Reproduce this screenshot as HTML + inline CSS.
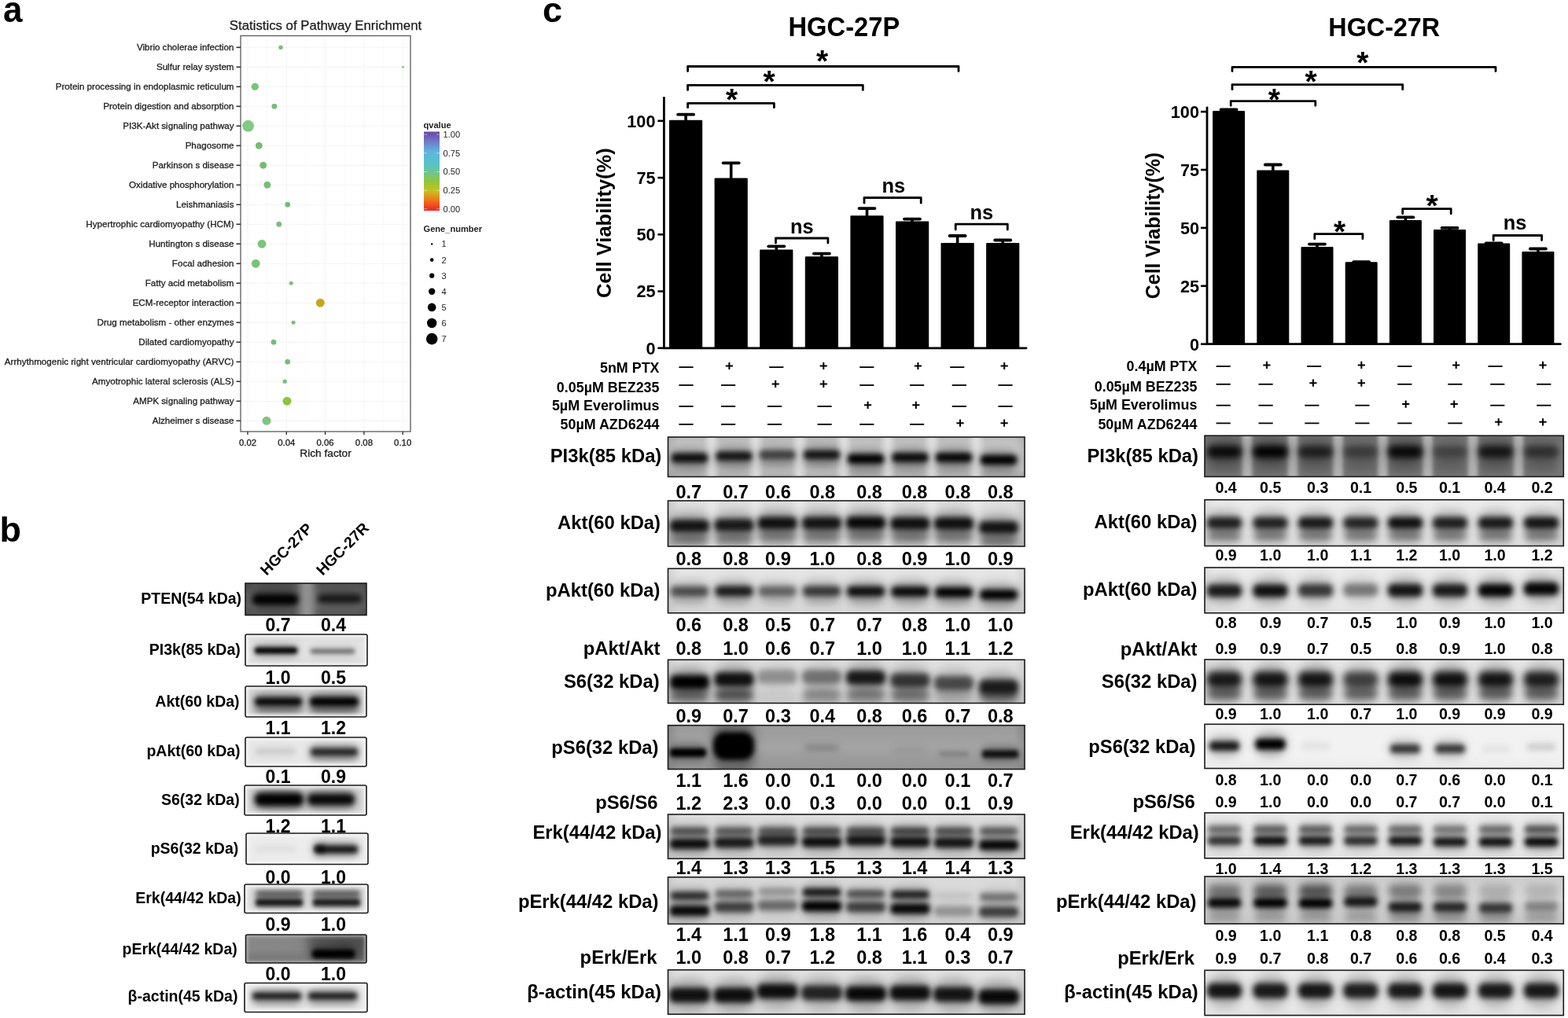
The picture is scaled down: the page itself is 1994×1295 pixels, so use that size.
<!DOCTYPE html>
<html><head><meta charset="utf-8"><style>
html,body{margin:0;padding:0;background:#fff;}
svg{display:block;}
text{font-family:"Liberation Sans", Arial, sans-serif;}
</style></head><body>
<svg width="1994" height="1295" viewBox="0 0 1994 1295">
<rect width="1994" height="1295" fill="#fff"/>
<text x="0" y="0" font-size="44" text-anchor="start" font-weight="bold" fill="#000" transform="translate(3.9,28.0) scale(1,1.04)">a</text><text x="414.0" y="37.6" font-size="16.8" text-anchor="middle" font-weight="normal" fill="#1a1a1a" stroke="#1a1a1a" stroke-width="0.25">Statistics of Pathway Enrichment</text><line x1="315.0" y1="45.5" x2="315.0" y2="549" stroke="#f3f3f3" stroke-width="1"/><line x1="339.6" y1="45.5" x2="339.6" y2="549" stroke="#f9f9f9" stroke-width="1"/><line x1="364.3" y1="45.5" x2="364.3" y2="549" stroke="#f3f3f3" stroke-width="1"/><line x1="388.9" y1="45.5" x2="388.9" y2="549" stroke="#f9f9f9" stroke-width="1"/><line x1="413.6" y1="45.5" x2="413.6" y2="549" stroke="#f3f3f3" stroke-width="1"/><line x1="438.2" y1="45.5" x2="438.2" y2="549" stroke="#f9f9f9" stroke-width="1"/><line x1="462.9" y1="45.5" x2="462.9" y2="549" stroke="#f3f3f3" stroke-width="1"/><line x1="487.5" y1="45.5" x2="487.5" y2="549" stroke="#f9f9f9" stroke-width="1"/><line x1="512.2" y1="45.5" x2="512.2" y2="549" stroke="#f3f3f3" stroke-width="1"/><line x1="306" y1="60.3" x2="522" y2="60.3" stroke="#f3f3f3" stroke-width="1"/><line x1="306" y1="85.3" x2="522" y2="85.3" stroke="#f3f3f3" stroke-width="1"/><line x1="306" y1="110.3" x2="522" y2="110.3" stroke="#f3f3f3" stroke-width="1"/><line x1="306" y1="135.3" x2="522" y2="135.3" stroke="#f3f3f3" stroke-width="1"/><line x1="306" y1="160.3" x2="522" y2="160.3" stroke="#f3f3f3" stroke-width="1"/><line x1="306" y1="185.3" x2="522" y2="185.3" stroke="#f3f3f3" stroke-width="1"/><line x1="306" y1="210.3" x2="522" y2="210.3" stroke="#f3f3f3" stroke-width="1"/><line x1="306" y1="235.3" x2="522" y2="235.3" stroke="#f3f3f3" stroke-width="1"/><line x1="306" y1="260.3" x2="522" y2="260.3" stroke="#f3f3f3" stroke-width="1"/><line x1="306" y1="285.3" x2="522" y2="285.3" stroke="#f3f3f3" stroke-width="1"/><line x1="306" y1="310.3" x2="522" y2="310.3" stroke="#f3f3f3" stroke-width="1"/><line x1="306" y1="335.3" x2="522" y2="335.3" stroke="#f3f3f3" stroke-width="1"/><line x1="306" y1="360.3" x2="522" y2="360.3" stroke="#f3f3f3" stroke-width="1"/><line x1="306" y1="385.3" x2="522" y2="385.3" stroke="#f3f3f3" stroke-width="1"/><line x1="306" y1="410.3" x2="522" y2="410.3" stroke="#f3f3f3" stroke-width="1"/><line x1="306" y1="435.3" x2="522" y2="435.3" stroke="#f3f3f3" stroke-width="1"/><line x1="306" y1="460.3" x2="522" y2="460.3" stroke="#f3f3f3" stroke-width="1"/><line x1="306" y1="485.3" x2="522" y2="485.3" stroke="#f3f3f3" stroke-width="1"/><line x1="306" y1="510.3" x2="522" y2="510.3" stroke="#f3f3f3" stroke-width="1"/><line x1="306" y1="535.3" x2="522" y2="535.3" stroke="#f3f3f3" stroke-width="1"/><circle cx="357" cy="60.3" r="2.6" fill="#74c474" stroke="#000" stroke-opacity="0.12" stroke-width="0.7"/><circle cx="512.4" cy="85.3" r="1.3" fill="#8ccc8c" stroke="#000" stroke-opacity="0.12" stroke-width="0.7"/><circle cx="324.3" cy="110.3" r="4.5" fill="#78c678" stroke="#000" stroke-opacity="0.12" stroke-width="0.7"/><circle cx="348.9" cy="135.3" r="3.3" fill="#72c272" stroke="#000" stroke-opacity="0.12" stroke-width="0.7"/><circle cx="315.6" cy="160.3" r="7.2" fill="#80cb7f" stroke="#000" stroke-opacity="0.12" stroke-width="0.7"/><circle cx="329.3" cy="185.3" r="4.3" fill="#6fc06f" stroke="#000" stroke-opacity="0.12" stroke-width="0.7"/><circle cx="334.7" cy="210.3" r="4.3" fill="#6fc06f" stroke="#000" stroke-opacity="0.12" stroke-width="0.7"/><circle cx="339.9" cy="235.3" r="4.3" fill="#72c272" stroke="#000" stroke-opacity="0.12" stroke-width="0.7"/><circle cx="365.7" cy="260.3" r="3.2" fill="#70c070" stroke="#000" stroke-opacity="0.12" stroke-width="0.7"/><circle cx="354.8" cy="285.3" r="3.2" fill="#74c374" stroke="#000" stroke-opacity="0.12" stroke-width="0.7"/><circle cx="333" cy="310.3" r="5.2" fill="#78c678" stroke="#000" stroke-opacity="0.12" stroke-width="0.7"/><circle cx="325.2" cy="335.3" r="5.2" fill="#76c576" stroke="#000" stroke-opacity="0.12" stroke-width="0.7"/><circle cx="370.3" cy="360.3" r="2.4" fill="#74c474" stroke="#000" stroke-opacity="0.12" stroke-width="0.7"/><circle cx="407.3" cy="385.3" r="5.3" fill="#c9a514" stroke="#000" stroke-opacity="0.12" stroke-width="0.7"/><circle cx="373.1" cy="410.3" r="2.4" fill="#74c474" stroke="#000" stroke-opacity="0.12" stroke-width="0.7"/><circle cx="348" cy="435.3" r="3.2" fill="#72c272" stroke="#000" stroke-opacity="0.12" stroke-width="0.7"/><circle cx="365.7" cy="460.3" r="3.2" fill="#72c272" stroke="#000" stroke-opacity="0.12" stroke-width="0.7"/><circle cx="362.2" cy="485.3" r="2.5" fill="#74c474" stroke="#000" stroke-opacity="0.12" stroke-width="0.7"/><circle cx="365" cy="510.3" r="5.3" fill="#8cc63c" stroke="#000" stroke-opacity="0.12" stroke-width="0.7"/><circle cx="339" cy="535.3" r="5.3" fill="#7cc77c" stroke="#000" stroke-opacity="0.12" stroke-width="0.7"/><rect x="306" y="45.5" width="216" height="503.5" fill="none" stroke="#5a5a5a" stroke-width="1.3"/><line x1="300.5" y1="60.3" x2="306" y2="60.3" stroke="#333" stroke-width="1.6"/><line x1="300.5" y1="85.3" x2="306" y2="85.3" stroke="#333" stroke-width="1.6"/><line x1="300.5" y1="110.3" x2="306" y2="110.3" stroke="#333" stroke-width="1.6"/><line x1="300.5" y1="135.3" x2="306" y2="135.3" stroke="#333" stroke-width="1.6"/><line x1="300.5" y1="160.3" x2="306" y2="160.3" stroke="#333" stroke-width="1.6"/><line x1="300.5" y1="185.3" x2="306" y2="185.3" stroke="#333" stroke-width="1.6"/><line x1="300.5" y1="210.3" x2="306" y2="210.3" stroke="#333" stroke-width="1.6"/><line x1="300.5" y1="235.3" x2="306" y2="235.3" stroke="#333" stroke-width="1.6"/><line x1="300.5" y1="260.3" x2="306" y2="260.3" stroke="#333" stroke-width="1.6"/><line x1="300.5" y1="285.3" x2="306" y2="285.3" stroke="#333" stroke-width="1.6"/><line x1="300.5" y1="310.3" x2="306" y2="310.3" stroke="#333" stroke-width="1.6"/><line x1="300.5" y1="335.3" x2="306" y2="335.3" stroke="#333" stroke-width="1.6"/><line x1="300.5" y1="360.3" x2="306" y2="360.3" stroke="#333" stroke-width="1.6"/><line x1="300.5" y1="385.3" x2="306" y2="385.3" stroke="#333" stroke-width="1.6"/><line x1="300.5" y1="410.3" x2="306" y2="410.3" stroke="#333" stroke-width="1.6"/><line x1="300.5" y1="435.3" x2="306" y2="435.3" stroke="#333" stroke-width="1.6"/><line x1="300.5" y1="460.3" x2="306" y2="460.3" stroke="#333" stroke-width="1.6"/><line x1="300.5" y1="485.3" x2="306" y2="485.3" stroke="#333" stroke-width="1.6"/><line x1="300.5" y1="510.3" x2="306" y2="510.3" stroke="#333" stroke-width="1.6"/><line x1="300.5" y1="535.3" x2="306" y2="535.3" stroke="#333" stroke-width="1.6"/><text x="297.5" y="64.4" font-size="11.6" text-anchor="end" font-weight="normal" fill="#1c1c1c" stroke="#1c1c1c" stroke-width="0.3">Vibrio cholerae infection</text><text x="297.5" y="89.4" font-size="11.6" text-anchor="end" font-weight="normal" fill="#1c1c1c" stroke="#1c1c1c" stroke-width="0.3">Sulfur relay system</text><text x="297.5" y="114.4" font-size="11.6" text-anchor="end" font-weight="normal" fill="#1c1c1c" stroke="#1c1c1c" stroke-width="0.3">Protein processing in endoplasmic reticulum</text><text x="297.5" y="139.4" font-size="11.6" text-anchor="end" font-weight="normal" fill="#1c1c1c" stroke="#1c1c1c" stroke-width="0.3">Protein digestion and absorption</text><text x="297.5" y="164.4" font-size="11.6" text-anchor="end" font-weight="normal" fill="#1c1c1c" stroke="#1c1c1c" stroke-width="0.3">PI3K-Akt signaling pathway</text><text x="297.5" y="189.4" font-size="11.6" text-anchor="end" font-weight="normal" fill="#1c1c1c" stroke="#1c1c1c" stroke-width="0.3">Phagosome</text><text x="297.5" y="214.4" font-size="11.6" text-anchor="end" font-weight="normal" fill="#1c1c1c" stroke="#1c1c1c" stroke-width="0.3">Parkinson s disease</text><text x="297.5" y="239.4" font-size="11.6" text-anchor="end" font-weight="normal" fill="#1c1c1c" stroke="#1c1c1c" stroke-width="0.3">Oxidative phosphorylation</text><text x="297.5" y="264.4" font-size="11.6" text-anchor="end" font-weight="normal" fill="#1c1c1c" stroke="#1c1c1c" stroke-width="0.3">Leishmaniasis</text><text x="297.5" y="289.4" font-size="11.6" text-anchor="end" font-weight="normal" fill="#1c1c1c" stroke="#1c1c1c" stroke-width="0.3">Hypertrophic cardiomyopathy (HCM)</text><text x="297.5" y="314.4" font-size="11.6" text-anchor="end" font-weight="normal" fill="#1c1c1c" stroke="#1c1c1c" stroke-width="0.3">Huntington s disease</text><text x="297.5" y="339.4" font-size="11.6" text-anchor="end" font-weight="normal" fill="#1c1c1c" stroke="#1c1c1c" stroke-width="0.3">Focal adhesion</text><text x="297.5" y="364.4" font-size="11.6" text-anchor="end" font-weight="normal" fill="#1c1c1c" stroke="#1c1c1c" stroke-width="0.3">Fatty acid metabolism</text><text x="297.5" y="389.4" font-size="11.6" text-anchor="end" font-weight="normal" fill="#1c1c1c" stroke="#1c1c1c" stroke-width="0.3">ECM-receptor interaction</text><text x="297.5" y="414.4" font-size="11.6" text-anchor="end" font-weight="normal" fill="#1c1c1c" stroke="#1c1c1c" stroke-width="0.3">Drug metabolism - other enzymes</text><text x="297.5" y="439.4" font-size="11.6" text-anchor="end" font-weight="normal" fill="#1c1c1c" stroke="#1c1c1c" stroke-width="0.3">Dilated cardiomyopathy</text><text x="297.5" y="464.4" font-size="11.6" text-anchor="end" font-weight="normal" fill="#1c1c1c" stroke="#1c1c1c" stroke-width="0.3">Arrhythmogenic right ventricular cardiomyopathy (ARVC)</text><text x="297.5" y="489.4" font-size="11.6" text-anchor="end" font-weight="normal" fill="#1c1c1c" stroke="#1c1c1c" stroke-width="0.3">Amyotrophic lateral sclerosis (ALS)</text><text x="297.5" y="514.4" font-size="11.6" text-anchor="end" font-weight="normal" fill="#1c1c1c" stroke="#1c1c1c" stroke-width="0.3">AMPK signaling pathway</text><text x="297.5" y="539.4" font-size="11.6" text-anchor="end" font-weight="normal" fill="#1c1c1c" stroke="#1c1c1c" stroke-width="0.3">Alzheimer s disease</text><line x1="315.0" y1="549" x2="315.0" y2="553" stroke="#333" stroke-width="1.4"/><text x="315.0" y="567.0" font-size="11.4" text-anchor="middle" font-weight="normal" fill="#1c1c1c" stroke="#1c1c1c" stroke-width="0.3">0.02</text><line x1="364.3" y1="549" x2="364.3" y2="553" stroke="#333" stroke-width="1.4"/><text x="364.3" y="567.0" font-size="11.4" text-anchor="middle" font-weight="normal" fill="#1c1c1c" stroke="#1c1c1c" stroke-width="0.3">0.04</text><line x1="413.6" y1="549" x2="413.6" y2="553" stroke="#333" stroke-width="1.4"/><text x="413.6" y="567.0" font-size="11.4" text-anchor="middle" font-weight="normal" fill="#1c1c1c" stroke="#1c1c1c" stroke-width="0.3">0.06</text><line x1="462.9" y1="549" x2="462.9" y2="553" stroke="#333" stroke-width="1.4"/><text x="462.9" y="567.0" font-size="11.4" text-anchor="middle" font-weight="normal" fill="#1c1c1c" stroke="#1c1c1c" stroke-width="0.3">0.08</text><line x1="512.2" y1="549" x2="512.2" y2="553" stroke="#333" stroke-width="1.4"/><text x="512.2" y="567.0" font-size="11.4" text-anchor="middle" font-weight="normal" fill="#1c1c1c" stroke="#1c1c1c" stroke-width="0.3">0.10</text><text x="414.0" y="581.0" font-size="13.7" text-anchor="middle" font-weight="normal" fill="#1c1c1c" stroke="#1c1c1c" stroke-width="0.3">Rich factor</text><defs><linearGradient id="qg" x1="0" y1="1" x2="0" y2="0"><stop offset="0" stop-color="#e8262a"/><stop offset="0.12" stop-color="#f26d1b"/><stop offset="0.25" stop-color="#c7c21d"/><stop offset="0.38" stop-color="#8cc63f"/><stop offset="0.5" stop-color="#6cc59a"/><stop offset="0.62" stop-color="#55c2cf"/><stop offset="0.75" stop-color="#5fb5e0"/><stop offset="0.88" stop-color="#6f78c6"/><stop offset="1" stop-color="#6a45a8"/></linearGradient></defs><text x="538.5" y="163.0" font-size="11.1" text-anchor="start" font-weight="bold" fill="#222" >qvalue</text><rect x="539" y="167.5" width="20" height="100.5" fill="url(#qg)"/><line x1="539" y1="171.0" x2="543" y2="171.0" stroke="#fff" stroke-width="0.8" opacity="0.6"/><line x1="555" y1="171.0" x2="559" y2="171.0" stroke="#fff" stroke-width="0.8" opacity="0.6"/><text x="563.5" y="174.9" font-size="11.1" text-anchor="start" font-weight="normal" fill="#222" >1.00</text><line x1="539" y1="194.7" x2="543" y2="194.7" stroke="#fff" stroke-width="0.8" opacity="0.6"/><line x1="555" y1="194.7" x2="559" y2="194.7" stroke="#fff" stroke-width="0.8" opacity="0.6"/><text x="563.5" y="198.6" font-size="11.1" text-anchor="start" font-weight="normal" fill="#222" >0.75</text><line x1="539" y1="218.4" x2="543" y2="218.4" stroke="#fff" stroke-width="0.8" opacity="0.6"/><line x1="555" y1="218.4" x2="559" y2="218.4" stroke="#fff" stroke-width="0.8" opacity="0.6"/><text x="563.5" y="222.3" font-size="11.1" text-anchor="start" font-weight="normal" fill="#222" >0.50</text><line x1="539" y1="242.1" x2="543" y2="242.1" stroke="#fff" stroke-width="0.8" opacity="0.6"/><line x1="555" y1="242.1" x2="559" y2="242.1" stroke="#fff" stroke-width="0.8" opacity="0.6"/><text x="563.5" y="246.0" font-size="11.1" text-anchor="start" font-weight="normal" fill="#222" >0.25</text><line x1="539" y1="265.8" x2="543" y2="265.8" stroke="#fff" stroke-width="0.8" opacity="0.6"/><line x1="555" y1="265.8" x2="559" y2="265.8" stroke="#fff" stroke-width="0.8" opacity="0.6"/><text x="563.5" y="269.7" font-size="11.1" text-anchor="start" font-weight="normal" fill="#222" >0.00</text><text x="538.5" y="295.0" font-size="11.1" text-anchor="start" font-weight="bold" fill="#222" >Gene_number</text><circle cx="549.2" cy="310.5" r="1.2" fill="#000"/><text x="561.5" y="314.4" font-size="11.1" text-anchor="start" font-weight="normal" fill="#222" >1</text><circle cx="549.2" cy="330.6" r="2.3" fill="#000"/><text x="561.5" y="334.5" font-size="11.1" text-anchor="start" font-weight="normal" fill="#222" >2</text><circle cx="549.2" cy="350.7" r="3.1" fill="#000"/><text x="561.5" y="354.6" font-size="11.1" text-anchor="start" font-weight="normal" fill="#222" >3</text><circle cx="549.2" cy="370.8" r="4.2" fill="#000"/><text x="561.5" y="374.7" font-size="11.1" text-anchor="start" font-weight="normal" fill="#222" >4</text><circle cx="549.2" cy="390.9" r="5.3" fill="#000"/><text x="561.5" y="394.8" font-size="11.1" text-anchor="start" font-weight="normal" fill="#222" >5</text><circle cx="549.2" cy="411.0" r="6.2" fill="#000"/><text x="561.5" y="414.9" font-size="11.1" text-anchor="start" font-weight="normal" fill="#222" >6</text><circle cx="549.2" cy="431.1" r="7.3" fill="#000"/><text x="561.5" y="435.0" font-size="11.1" text-anchor="start" font-weight="normal" fill="#222" >7</text><defs><filter id="f2" x="-50%" y="-150%" width="200%" height="400%"><feGaussianBlur stdDeviation="1.0"/></filter><filter id="f3" x="-50%" y="-150%" width="200%" height="400%"><feGaussianBlur stdDeviation="1.5"/></filter><filter id="f4" x="-50%" y="-150%" width="200%" height="400%"><feGaussianBlur stdDeviation="2.0"/></filter><filter id="f5" x="-50%" y="-150%" width="200%" height="400%"><feGaussianBlur stdDeviation="2.5"/></filter><filter id="f6" x="-50%" y="-150%" width="200%" height="400%"><feGaussianBlur stdDeviation="3.0"/></filter><filter id="f7" x="-50%" y="-150%" width="200%" height="400%"><feGaussianBlur stdDeviation="3.5"/></filter><filter id="f8" x="-50%" y="-150%" width="200%" height="400%"><feGaussianBlur stdDeviation="4.0"/></filter><filter id="f9" x="-50%" y="-150%" width="200%" height="400%"><feGaussianBlur stdDeviation="4.5"/></filter><filter id="f10" x="-50%" y="-150%" width="200%" height="400%"><feGaussianBlur stdDeviation="5.0"/></filter><filter id="f11" x="-50%" y="-150%" width="200%" height="400%"><feGaussianBlur stdDeviation="5.5"/></filter><filter id="f12" x="-50%" y="-150%" width="200%" height="400%"><feGaussianBlur stdDeviation="6.0"/></filter><filter id="f13" x="-50%" y="-150%" width="200%" height="400%"><feGaussianBlur stdDeviation="6.5"/></filter><filter id="f14" x="-50%" y="-150%" width="200%" height="400%"><feGaussianBlur stdDeviation="7.0"/></filter><filter id="f15" x="-50%" y="-150%" width="200%" height="400%"><feGaussianBlur stdDeviation="7.5"/></filter><filter id="f16" x="-50%" y="-150%" width="200%" height="400%"><feGaussianBlur stdDeviation="8.0"/></filter><filter id="f17" x="-50%" y="-150%" width="200%" height="400%"><feGaussianBlur stdDeviation="8.5"/></filter><filter id="f18" x="-50%" y="-150%" width="200%" height="400%"><feGaussianBlur stdDeviation="9.0"/></filter><filter id="f19" x="-50%" y="-150%" width="200%" height="400%"><feGaussianBlur stdDeviation="9.5"/></filter><filter id="f20" x="-50%" y="-150%" width="200%" height="400%"><feGaussianBlur stdDeviation="10.0"/></filter></defs><text x="0" y="0" font-size="45" text-anchor="start" font-weight="bold" fill="#000" transform="translate(-0.6,689.4) scale(1,1.0)">b</text><text x="0" y="0" font-size="19.4" font-weight="bold" transform="translate(338.9,733) rotate(-45)">HGC-27P</text><text x="0" y="0" font-size="19.4" font-weight="bold" transform="translate(410.2,733) rotate(-45)">HGC-27R</text><text x="307.1" y="768.0" font-size="19.5" text-anchor="end" font-weight="bold" fill="#000" >PTEN(54 kDa)</text><text x="305.8" y="833.0" font-size="19.5" text-anchor="end" font-weight="bold" fill="#000" >PI3k(85 kDa)</text><text x="304.6" y="899.0" font-size="19.5" text-anchor="end" font-weight="bold" fill="#000" >Akt(60 kDa)</text><text x="305.6" y="962.0" font-size="19.5" text-anchor="end" font-weight="bold" fill="#000" >pAkt(60 kDa)</text><text x="304.7" y="1024.0" font-size="19.5" text-anchor="end" font-weight="bold" fill="#000" >S6(32 kDa)</text><text x="303.3" y="1086.0" font-size="19.5" text-anchor="end" font-weight="bold" fill="#000" >pS6(32 kDa)</text><text x="306.7" y="1149.0" font-size="19.5" text-anchor="end" font-weight="bold" fill="#000" >Erk(44/42 kDa)</text><text x="301.8" y="1214.0" font-size="19.5" text-anchor="end" font-weight="bold" fill="#000" >pErk(44/42 kDa)</text><text x="302.4" y="1274.0" font-size="19.5" text-anchor="end" font-weight="bold" fill="#000" >β-actin(45 kDa)</text><text x="353.5" y="803.2" font-size="23" text-anchor="middle" font-weight="bold" fill="#000" >0.7</text><text x="424.0" y="803.2" font-size="23" text-anchor="middle" font-weight="bold" fill="#000" >0.4</text><text x="353.5" y="870.2" font-size="23" text-anchor="middle" font-weight="bold" fill="#000" >1.0</text><text x="424.0" y="870.2" font-size="23" text-anchor="middle" font-weight="bold" fill="#000" >0.5</text><text x="353.5" y="933.7" font-size="23" text-anchor="middle" font-weight="bold" fill="#000" >1.1</text><text x="424.0" y="933.7" font-size="23" text-anchor="middle" font-weight="bold" fill="#000" >1.2</text><text x="353.5" y="996.2" font-size="23" text-anchor="middle" font-weight="bold" fill="#000" >0.1</text><text x="424.0" y="996.2" font-size="23" text-anchor="middle" font-weight="bold" fill="#000" >0.9</text><text x="353.5" y="1059.2" font-size="23" text-anchor="middle" font-weight="bold" fill="#000" >1.2</text><text x="424.0" y="1059.2" font-size="23" text-anchor="middle" font-weight="bold" fill="#000" >1.1</text><text x="353.5" y="1123.7" font-size="23" text-anchor="middle" font-weight="bold" fill="#000" >0.0</text><text x="424.0" y="1123.7" font-size="23" text-anchor="middle" font-weight="bold" fill="#000" >1.0</text><text x="353.5" y="1184.2" font-size="23" text-anchor="middle" font-weight="bold" fill="#000" >0.9</text><text x="424.0" y="1184.2" font-size="23" text-anchor="middle" font-weight="bold" fill="#000" >1.0</text><text x="353.5" y="1246.7" font-size="23" text-anchor="middle" font-weight="bold" fill="#000" >0.0</text><text x="424.0" y="1246.7" font-size="23" text-anchor="middle" font-weight="bold" fill="#000" >1.0</text><clipPath id="c1"><rect x="312" y="742" width="154" height="40.5"/></clipPath><g clip-path="url(#c1)"><rect x="312" y="742" width="154" height="40.5" fill="#6c6c6c"/><linearGradient id="g1" x1="0" y1="0" x2="0" y2="1"><stop offset="0" stop-color="#000" stop-opacity="0.25"/><stop offset="0.4" stop-color="#000" stop-opacity="0"/><stop offset="0.7" stop-color="#000" stop-opacity="0"/><stop offset="1" stop-color="#000" stop-opacity="0.2"/></linearGradient><rect x="312" y="742" width="154" height="40.5" fill="url(#g1)"/><linearGradient id="h1" x1="0" y1="0" x2="1" y2="0"><stop offset="0" stop-color="#000" stop-opacity="0.15"/><stop offset="0.08" stop-color="#000" stop-opacity="0"/><stop offset="0.92" stop-color="#000" stop-opacity="0"/><stop offset="1" stop-color="#000" stop-opacity="0.15"/></linearGradient><rect x="312" y="742" width="154" height="40.5" fill="url(#h1)"/><rect x="381.0" y="732" width="18" height="60.5" fill="#949494" filter="url(#f10)"/><rect x="319.0" y="747.1" width="62" height="30.8" rx="15.4" fill="#000" fill-opacity="0.300" filter="url(#f14)"/><rect x="321.0" y="755.5" width="58" height="14" rx="5.6" fill="#000" fill-opacity="1.0" filter="url(#f7)"/><rect x="402.0" y="749.4" width="60" height="24.2" rx="12.1" fill="#000" fill-opacity="0.225" filter="url(#f14)"/><rect x="404.0" y="756.0" width="56" height="11" rx="4.4" fill="#000" fill-opacity="0.75" filter="url(#f7)"/></g><rect x="312" y="742" width="154" height="40.5" rx="0" fill="none" stroke="#1a1a1a" stroke-width="1.6"/><clipPath id="c2"><rect x="312" y="807" width="155" height="40"/></clipPath><g clip-path="url(#c2)"><rect x="312" y="807" width="155" height="40" fill="#e4e4e4"/><linearGradient id="g2" x1="0" y1="0" x2="0" y2="1"><stop offset="0" stop-color="#000" stop-opacity="0.04"/><stop offset="0.3" stop-color="#000" stop-opacity="0"/><stop offset="0.7" stop-color="#000" stop-opacity="0"/><stop offset="1" stop-color="#000" stop-opacity="0.06"/></linearGradient><rect x="312" y="807" width="155" height="40" fill="url(#g2)"/><rect x="322.0" y="818.7" width="58" height="17.6" rx="8.8" fill="#000" fill-opacity="0.300" filter="url(#f10)"/><rect x="324.0" y="823.5" width="54" height="8" rx="3.2" fill="#000" fill-opacity="1.0" filter="url(#f5)"/><rect x="393.0" y="821.9" width="60" height="13.2" rx="6.6" fill="#000" fill-opacity="0.135" filter="url(#f10)"/><rect x="395.0" y="825.5" width="56" height="6" rx="2.4" fill="#000" fill-opacity="0.45" filter="url(#f5)"/><rect x="312" y="807" width="155" height="40" fill="none" stroke="#f6f6f6" stroke-width="6" filter="url(#f4)"/></g><rect x="312" y="807" width="155" height="40" rx="2" fill="none" stroke="#1a1a1a" stroke-width="1.6"/><clipPath id="c3"><rect x="312" y="873" width="154" height="39"/></clipPath><g clip-path="url(#c3)"><rect x="312" y="873" width="154" height="39" fill="#d6d6d6"/><rect x="322.0" y="880.4" width="64" height="24.2" rx="12.1" fill="#000" fill-opacity="0.285" filter="url(#f12)"/><rect x="324.0" y="887.0" width="60" height="11" rx="4.4" fill="#000" fill-opacity="0.95" filter="url(#f6)"/><rect x="392.0" y="879.3" width="66" height="26.4" rx="13.2" fill="#000" fill-opacity="0.300" filter="url(#f12)"/><rect x="394.0" y="886.5" width="62" height="12" rx="4.8" fill="#000" fill-opacity="1.0" filter="url(#f6)"/><rect x="323.0" y="893.1" width="62" height="19.8" rx="9.9" fill="#000" fill-opacity="0.090" filter="url(#f16)"/><rect x="325.0" y="898.5" width="58" height="9" rx="3.6" fill="#000" fill-opacity="0.3" filter="url(#f8)"/><rect x="393.0" y="893.1" width="64" height="19.8" rx="9.9" fill="#000" fill-opacity="0.105" filter="url(#f16)"/><rect x="395.0" y="898.5" width="60" height="9" rx="3.6" fill="#000" fill-opacity="0.35" filter="url(#f8)"/><rect x="312" y="873" width="154" height="39" fill="none" stroke="#f6f6f6" stroke-width="6" filter="url(#f4)"/></g><rect x="312" y="873" width="154" height="39" rx="2" fill="none" stroke="#1a1a1a" stroke-width="1.6"/><clipPath id="c4"><rect x="312" y="938" width="154" height="37"/></clipPath><g clip-path="url(#c4)"><rect x="312" y="938" width="154" height="37" fill="#e8e8e8"/><rect x="323.0" y="947.2" width="54" height="17.6" rx="8.8" fill="#000" fill-opacity="0.030" filter="url(#f12)"/><rect x="325.0" y="952.0" width="50" height="8" rx="3.2" fill="#000" fill-opacity="0.1" filter="url(#f6)"/><rect x="393.0" y="945.5" width="64" height="22.0" rx="11.0" fill="#000" fill-opacity="0.240" filter="url(#f12)"/><rect x="395.0" y="951.5" width="60" height="10" rx="4.0" fill="#000" fill-opacity="0.8" filter="url(#f6)"/><rect x="394.0" y="956.2" width="62" height="17.6" rx="8.8" fill="#000" fill-opacity="0.045" filter="url(#f16)"/><rect x="396.0" y="961.0" width="58" height="8" rx="3.2" fill="#000" fill-opacity="0.15" filter="url(#f8)"/><rect x="312" y="938" width="154" height="37" fill="none" stroke="#f6f6f6" stroke-width="6" filter="url(#f4)"/></g><rect x="312" y="938" width="154" height="37" rx="2" fill="none" stroke="#1a1a1a" stroke-width="1.6"/><clipPath id="c5"><rect x="311" y="999" width="155" height="38"/></clipPath><g clip-path="url(#c5)"><rect x="311" y="999" width="155" height="38" fill="#d8d8d8"/><rect x="322.0" y="998.3" width="66" height="37.4" rx="18.7" fill="#000" fill-opacity="0.300" filter="url(#f14)"/><rect x="324.0" y="1008.5" width="62" height="17" rx="6.8" fill="#000" fill-opacity="1.0" filter="url(#f7)"/><rect x="389.0" y="1000.5" width="64" height="33.0" rx="16.5" fill="#000" fill-opacity="0.285" filter="url(#f14)"/><rect x="391.0" y="1009.5" width="60" height="15" rx="6.0" fill="#000" fill-opacity="0.95" filter="url(#f7)"/><rect x="311" y="999" width="155" height="38" fill="none" stroke="#f6f6f6" stroke-width="6" filter="url(#f4)"/></g><rect x="311" y="999" width="155" height="38" rx="2" fill="none" stroke="#1a1a1a" stroke-width="1.6"/><clipPath id="c6"><rect x="313" y="1060" width="155" height="39.5"/></clipPath><g clip-path="url(#c6)"><rect x="313" y="1060" width="155" height="39.5" fill="#ececec"/><rect x="323.0" y="1073.4" width="54" height="13.2" rx="6.6" fill="#000" fill-opacity="0.015" filter="url(#f12)"/><rect x="325.0" y="1077.0" width="50" height="6" rx="2.4" fill="#000" fill-opacity="0.05" filter="url(#f6)"/><rect x="399.0" y="1069.5" width="58" height="22.0" rx="11.0" fill="#000" fill-opacity="0.270" filter="url(#f12)"/><rect x="401.0" y="1075.5" width="54" height="10" rx="4.0" fill="#000" fill-opacity="0.9" filter="url(#f6)"/><rect x="397.0" y="1069.0" width="18" height="22.0" rx="9.0" fill="#000" fill-opacity="0.150" filter="url(#f8)"/><rect x="399.0" y="1075.0" width="14" height="10" rx="4.0" fill="#000" fill-opacity="0.5" filter="url(#f4)"/><rect x="313" y="1060" width="155" height="39.5" fill="none" stroke="#f6f6f6" stroke-width="6" filter="url(#f4)"/></g><rect x="313" y="1060" width="155" height="39.5" rx="2" fill="none" stroke="#1a1a1a" stroke-width="1.6"/><clipPath id="c7"><rect x="311" y="1125" width="157" height="36.5"/></clipPath><g clip-path="url(#c7)"><rect x="311" y="1125" width="157" height="36.5" fill="#e0e0e0"/><rect x="323.0" y="1128.2" width="64" height="17.6" rx="8.8" fill="#000" fill-opacity="0.150" filter="url(#f12)"/><rect x="325.0" y="1133.0" width="60" height="8" rx="3.2" fill="#000" fill-opacity="0.5" filter="url(#f6)"/><rect x="396.0" y="1128.2" width="64" height="17.6" rx="8.8" fill="#000" fill-opacity="0.150" filter="url(#f12)"/><rect x="398.0" y="1133.0" width="60" height="8" rx="3.2" fill="#000" fill-opacity="0.5" filter="url(#f6)"/><rect x="323.0" y="1138.1" width="64" height="19.8" rx="9.9" fill="#000" fill-opacity="0.255" filter="url(#f10)"/><rect x="325.0" y="1143.5" width="60" height="9" rx="3.6" fill="#000" fill-opacity="0.85" filter="url(#f5)"/><rect x="396.0" y="1138.1" width="64" height="19.8" rx="9.9" fill="#000" fill-opacity="0.246" filter="url(#f10)"/><rect x="398.0" y="1143.5" width="60" height="9" rx="3.6" fill="#000" fill-opacity="0.82" filter="url(#f5)"/><rect x="311" y="1125" width="157" height="36.5" fill="none" stroke="#f6f6f6" stroke-width="6" filter="url(#f4)"/></g><rect x="311" y="1125" width="157" height="36.5" rx="2" fill="none" stroke="#1a1a1a" stroke-width="1.6"/><clipPath id="c8"><rect x="312.5" y="1189" width="153.5" height="36"/></clipPath><g clip-path="url(#c8)"><rect x="312.5" y="1189" width="153.5" height="36" fill="#8e8e8e"/><linearGradient id="g8" x1="0" y1="0" x2="0" y2="1"><stop offset="0" stop-color="#000" stop-opacity="0.0"/><stop offset="0.5" stop-color="#000" stop-opacity="0"/><stop offset="1" stop-color="#000" stop-opacity="0.15"/></linearGradient><rect x="312.5" y="1189" width="153.5" height="36" fill="url(#g8)"/><linearGradient id="h8" x1="0" y1="0" x2="1" y2="0"><stop offset="0" stop-color="#000" stop-opacity="0.05"/><stop offset="0.5" stop-color="#000" stop-opacity="0.05"/><stop offset="0.8" stop-color="#000" stop-opacity="0.2"/><stop offset="1" stop-color="#000" stop-opacity="0.2"/></linearGradient><rect x="312.5" y="1189" width="153.5" height="36" fill="url(#h8)"/><rect x="395.0" y="1201.4" width="58" height="24.2" rx="12.1" fill="#000" fill-opacity="0.300" filter="url(#f10)"/><rect x="397.0" y="1208.0" width="54" height="11" rx="4.4" fill="#000" fill-opacity="1.0" filter="url(#f5)"/><rect x="388.0" y="1167.0" width="84" height="66.0" rx="33.0" fill="#000" fill-opacity="0.075" filter="url(#f20)"/><rect x="390.0" y="1185.0" width="80" height="30" rx="12.0" fill="#000" fill-opacity="0.25" filter="url(#f12)"/><rect x="312.5" y="1189" width="153.5" height="36" fill="none" stroke="#bbbbbb" stroke-width="4" filter="url(#f4)"/></g><rect x="312.5" y="1189" width="153.5" height="36" rx="2" fill="none" stroke="#1a1a1a" stroke-width="1.6"/><clipPath id="c9"><rect x="311" y="1250.5" width="156" height="37.0"/></clipPath><g clip-path="url(#c9)"><rect x="311" y="1250.5" width="156" height="37.0" fill="#ebebeb"/><rect x="319.0" y="1257.1" width="66" height="19.8" rx="9.9" fill="#000" fill-opacity="0.264" filter="url(#f12)"/><rect x="321.0" y="1262.5" width="62" height="9" rx="3.6" fill="#000" fill-opacity="0.88" filter="url(#f6)"/><rect x="390.0" y="1257.1" width="66" height="19.8" rx="9.9" fill="#000" fill-opacity="0.264" filter="url(#f12)"/><rect x="392.0" y="1262.5" width="62" height="9" rx="3.6" fill="#000" fill-opacity="0.88" filter="url(#f6)"/><rect x="320.0" y="1267.2" width="64" height="17.6" rx="8.8" fill="#000" fill-opacity="0.036" filter="url(#f16)"/><rect x="322.0" y="1272.0" width="60" height="8" rx="3.2" fill="#000" fill-opacity="0.12" filter="url(#f8)"/><rect x="391.0" y="1267.2" width="64" height="17.6" rx="8.8" fill="#000" fill-opacity="0.036" filter="url(#f16)"/><rect x="393.0" y="1272.0" width="60" height="8" rx="3.2" fill="#000" fill-opacity="0.12" filter="url(#f8)"/><rect x="311" y="1250.5" width="156" height="37.0" fill="none" stroke="#f6f6f6" stroke-width="6" filter="url(#f4)"/></g><rect x="311" y="1250.5" width="156" height="37.0" rx="2" fill="none" stroke="#1a1a1a" stroke-width="1.6"/><text x="0" y="0" font-size="45" text-anchor="start" font-weight="bold" fill="#000" transform="translate(690,28.4) scale(1,1.0)">c</text><text x="0" y="0" font-size="32.7" text-anchor="middle" font-weight="bold" fill="#000" transform="translate(1073.35,46.3) scale(1,1.046)">HGC-27P</text><text x="0" y="0" font-size="32.3" text-anchor="middle" font-weight="bold" fill="#000" transform="translate(1760.25,46.3) scale(1,1.046)">HGC-27R</text><line x1="844.4" y1="124.3" x2="844.4" y2="442.8" stroke="#000" stroke-width="2.8" stroke-linecap="round"/><line x1="844.4" y1="442.8" x2="1305" y2="442.8" stroke="#000" stroke-width="2.8" stroke-linecap="round"/><line x1="836.4" y1="442.8" x2="844.4" y2="442.8" stroke="#000" stroke-width="2.6"/><line x1="836.4" y1="370.6" x2="844.4" y2="370.6" stroke="#000" stroke-width="2.6"/><line x1="836.4" y1="298.3" x2="844.4" y2="298.3" stroke="#000" stroke-width="2.6"/><line x1="836.4" y1="226.1" x2="844.4" y2="226.1" stroke="#000" stroke-width="2.6"/><line x1="836.4" y1="153.8" x2="844.4" y2="153.8" stroke="#000" stroke-width="2.6"/><rect x="852.0" y="153.8" width="40.2" height="289.0" fill="#000" stroke="#000" stroke-width="2" stroke-linejoin="round"/><line x1="872.1" y1="153.8" x2="872.1" y2="145.7" stroke="#000" stroke-width="3.6"/><line x1="862.1" y1="145.7" x2="882.1" y2="145.7" stroke="#000" stroke-width="3.8" stroke-linecap="round"/><rect x="909.6" y="227.5" width="40.2" height="215.3" fill="#000" stroke="#000" stroke-width="2" stroke-linejoin="round"/><line x1="929.7" y1="227.5" x2="929.7" y2="207.3" stroke="#000" stroke-width="3.6"/><line x1="919.7" y1="207.3" x2="939.7" y2="207.3" stroke="#000" stroke-width="3.8" stroke-linecap="round"/><rect x="967.2" y="318.5" width="40.2" height="124.3" fill="#000" stroke="#000" stroke-width="2" stroke-linejoin="round"/><line x1="987.3" y1="318.5" x2="987.3" y2="313.3" stroke="#000" stroke-width="3.6"/><line x1="977.3" y1="313.3" x2="997.3" y2="313.3" stroke="#000" stroke-width="3.8" stroke-linecap="round"/><rect x="1024.8" y="327.2" width="40.2" height="115.6" fill="#000" stroke="#000" stroke-width="2" stroke-linejoin="round"/><line x1="1044.9" y1="327.2" x2="1044.9" y2="322.6" stroke="#000" stroke-width="3.6"/><line x1="1034.9" y1="322.6" x2="1054.9" y2="322.6" stroke="#000" stroke-width="3.8" stroke-linecap="round"/><rect x="1082.4" y="275.2" width="40.2" height="167.6" fill="#000" stroke="#000" stroke-width="2" stroke-linejoin="round"/><line x1="1102.5" y1="275.2" x2="1102.5" y2="265.1" stroke="#000" stroke-width="3.6"/><line x1="1092.5" y1="265.1" x2="1112.5" y2="265.1" stroke="#000" stroke-width="3.8" stroke-linecap="round"/><rect x="1140.0" y="282.4" width="40.2" height="160.4" fill="#000" stroke="#000" stroke-width="2" stroke-linejoin="round"/><line x1="1160.0" y1="282.4" x2="1160.0" y2="278.6" stroke="#000" stroke-width="3.6"/><line x1="1150.0" y1="278.6" x2="1170.0" y2="278.6" stroke="#000" stroke-width="3.8" stroke-linecap="round"/><rect x="1197.5" y="309.9" width="40.2" height="132.9" fill="#000" stroke="#000" stroke-width="2" stroke-linejoin="round"/><line x1="1217.6" y1="309.9" x2="1217.6" y2="300.0" stroke="#000" stroke-width="3.6"/><line x1="1207.6" y1="300.0" x2="1227.6" y2="300.0" stroke="#000" stroke-width="3.8" stroke-linecap="round"/><rect x="1255.1" y="309.9" width="40.2" height="132.9" fill="#000" stroke="#000" stroke-width="2" stroke-linejoin="round"/><line x1="1275.2" y1="309.9" x2="1275.2" y2="305.5" stroke="#000" stroke-width="3.6"/><line x1="1265.2" y1="305.5" x2="1285.2" y2="305.5" stroke="#000" stroke-width="3.8" stroke-linecap="round"/><path d="M874.6,90.6 L874.6,84.5 L1219,84.5 L1219,90.6" fill="none" stroke="#000" stroke-width="2.8" stroke-linejoin="round" stroke-linecap="round"/><path d="M874.6,114.4 L874.6,108.3 L1097.3,108.3 L1097.3,114.4" fill="none" stroke="#000" stroke-width="2.8" stroke-linejoin="round" stroke-linecap="round"/><path d="M874.6,136.7 L874.6,131.4 L984.4,131.4 L984.4,136.7" fill="none" stroke="#000" stroke-width="2.8" stroke-linejoin="round" stroke-linecap="round"/><path d="M986.5,309 L986.5,303 L1052.9,303 L1052.9,309" fill="none" stroke="#000" stroke-width="2.8" stroke-linejoin="round" stroke-linecap="round"/><path d="M1099,258.2 L1099,251.5 L1171.2,251.5 L1171.2,258.2" fill="none" stroke="#000" stroke-width="2.8" stroke-linejoin="round" stroke-linecap="round"/><path d="M1215.2,292 L1215.2,285.2 L1281.3,285.2 L1281.3,292" fill="none" stroke="#000" stroke-width="2.8" stroke-linejoin="round" stroke-linecap="round"/><text x="1045.6" y="91.4" font-size="39" text-anchor="middle" font-weight="bold" fill="#000" >*</text><text x="978.1" y="117.0" font-size="39" text-anchor="middle" font-weight="bold" fill="#000" >*</text><text x="930.5" y="140.3" font-size="39" text-anchor="middle" font-weight="bold" fill="#000" >*</text><text x="1019.9" y="297.4" font-size="25.4" text-anchor="middle" font-weight="bold" fill="#000" >ns</text><text x="1136.4" y="245.1" font-size="25.4" text-anchor="middle" font-weight="bold" fill="#000" >ns</text><text x="1248.3" y="278.5" font-size="25.4" text-anchor="middle" font-weight="bold" fill="#000" >ns</text><text x="833.5" y="450.6" font-size="21.7" text-anchor="end" font-weight="bold" fill="#000" >0</text><text x="833.5" y="378.3" font-size="21.7" text-anchor="end" font-weight="bold" fill="#000" >25</text><text x="833.5" y="306.1" font-size="21.7" text-anchor="end" font-weight="bold" fill="#000" >50</text><text x="833.5" y="233.8" font-size="21.7" text-anchor="end" font-weight="bold" fill="#000" >75</text><text x="833.5" y="161.6" font-size="21.7" text-anchor="end" font-weight="bold" fill="#000" >100</text><text x="0" y="0" font-size="25.5" font-weight="bold" text-anchor="middle" transform="translate(777,283.7) rotate(-90)">Cell Viability(%)</text><line x1="1535" y1="136.8" x2="1535" y2="437.7" stroke="#000" stroke-width="2.8" stroke-linecap="round"/><line x1="1535" y1="437.7" x2="1984.4" y2="437.7" stroke="#000" stroke-width="2.8" stroke-linecap="round"/><line x1="1527" y1="437.7" x2="1535" y2="437.7" stroke="#000" stroke-width="2.6"/><line x1="1527" y1="363.8" x2="1535" y2="363.8" stroke="#000" stroke-width="2.6"/><line x1="1527" y1="289.9" x2="1535" y2="289.9" stroke="#000" stroke-width="2.6"/><line x1="1527" y1="216.0" x2="1535" y2="216.0" stroke="#000" stroke-width="2.6"/><line x1="1527" y1="142.1" x2="1535" y2="142.1" stroke="#000" stroke-width="2.6"/><rect x="1543.1" y="142.1" width="39" height="295.6" fill="#000" stroke="#000" stroke-width="2" stroke-linejoin="round"/><line x1="1562.6" y1="142.1" x2="1562.6" y2="139.4" stroke="#000" stroke-width="3.6"/><line x1="1552.6" y1="139.4" x2="1572.6" y2="139.4" stroke="#000" stroke-width="3.8" stroke-linecap="round"/><rect x="1599.3" y="217.5" width="39" height="220.2" fill="#000" stroke="#000" stroke-width="2" stroke-linejoin="round"/><line x1="1618.8" y1="217.5" x2="1618.8" y2="209.5" stroke="#000" stroke-width="3.6"/><line x1="1608.8" y1="209.5" x2="1628.8" y2="209.5" stroke="#000" stroke-width="3.8" stroke-linecap="round"/><rect x="1655.5" y="315.0" width="39" height="122.7" fill="#000" stroke="#000" stroke-width="2" stroke-linejoin="round"/><line x1="1675.0" y1="315.0" x2="1675.0" y2="310.6" stroke="#000" stroke-width="3.6"/><line x1="1665.0" y1="310.6" x2="1685.0" y2="310.6" stroke="#000" stroke-width="3.8" stroke-linecap="round"/><rect x="1711.7" y="334.2" width="39" height="103.5" fill="#000" stroke="#000" stroke-width="2" stroke-linejoin="round"/><line x1="1731.2" y1="334.2" x2="1731.2" y2="333.1" stroke="#000" stroke-width="3.6"/><line x1="1721.2" y1="333.1" x2="1741.2" y2="333.1" stroke="#000" stroke-width="3.8" stroke-linecap="round"/><rect x="1767.9" y="281.0" width="39" height="156.7" fill="#000" stroke="#000" stroke-width="2" stroke-linejoin="round"/><line x1="1787.4" y1="281.0" x2="1787.4" y2="276.3" stroke="#000" stroke-width="3.6"/><line x1="1777.4" y1="276.3" x2="1797.4" y2="276.3" stroke="#000" stroke-width="3.8" stroke-linecap="round"/><rect x="1824.0" y="292.9" width="39" height="144.8" fill="#000" stroke="#000" stroke-width="2" stroke-linejoin="round"/><line x1="1843.5" y1="292.9" x2="1843.5" y2="289.9" stroke="#000" stroke-width="3.6"/><line x1="1833.5" y1="289.9" x2="1853.5" y2="289.9" stroke="#000" stroke-width="3.8" stroke-linecap="round"/><rect x="1880.2" y="310.6" width="39" height="127.1" fill="#000" stroke="#000" stroke-width="2" stroke-linejoin="round"/><line x1="1899.7" y1="310.6" x2="1899.7" y2="309.4" stroke="#000" stroke-width="3.6"/><line x1="1889.7" y1="309.4" x2="1909.7" y2="309.4" stroke="#000" stroke-width="3.8" stroke-linecap="round"/><rect x="1936.4" y="320.9" width="39" height="116.8" fill="#000" stroke="#000" stroke-width="2" stroke-linejoin="round"/><line x1="1955.9" y1="320.9" x2="1955.9" y2="316.5" stroke="#000" stroke-width="3.6"/><line x1="1945.9" y1="316.5" x2="1965.9" y2="316.5" stroke="#000" stroke-width="3.8" stroke-linecap="round"/><path d="M1567,90.6 L1567,85.3 L1902,85.3 L1902,90.6" fill="none" stroke="#000" stroke-width="2.8" stroke-linejoin="round" stroke-linecap="round"/><path d="M1567,113.7 L1567,107.6 L1783.7,107.6 L1783.7,113.7" fill="none" stroke="#000" stroke-width="2.8" stroke-linejoin="round" stroke-linecap="round"/><path d="M1565.2,134.3 L1565.2,128.6 L1672.8,128.6 L1672.8,134.3" fill="none" stroke="#000" stroke-width="2.8" stroke-linejoin="round" stroke-linecap="round"/><path d="M1671.8,303.7 L1671.8,297.7 L1732.9,297.7 L1732.9,303.7" fill="none" stroke="#000" stroke-width="2.8" stroke-linejoin="round" stroke-linecap="round"/><path d="M1783.7,271.8 L1783.7,265.7 L1845.2,265.7 L1845.2,271.8" fill="none" stroke="#000" stroke-width="2.8" stroke-linejoin="round" stroke-linecap="round"/><path d="M1899.2,305.5 L1899.2,299.5 L1960.6,299.5 L1960.6,305.5" fill="none" stroke="#000" stroke-width="2.8" stroke-linejoin="round" stroke-linecap="round"/><text x="1732.9" y="92.7" font-size="39" text-anchor="middle" font-weight="bold" fill="#000" >*</text><text x="1667.2" y="116.5" font-size="39" text-anchor="middle" font-weight="bold" fill="#000" >*</text><text x="1620.3" y="139.9" font-size="39" text-anchor="middle" font-weight="bold" fill="#000" >*</text><text x="1703.7" y="307.7" font-size="39" text-anchor="middle" font-weight="bold" fill="#000" >*</text><text x="1821.0" y="274.9" font-size="39" text-anchor="middle" font-weight="bold" fill="#000" >*</text><text x="1926.5" y="292.1" font-size="25.4" text-anchor="middle" font-weight="bold" fill="#000" >ns</text><text x="1525.0" y="445.5" font-size="21.7" text-anchor="end" font-weight="bold" fill="#000" >0</text><text x="1525.0" y="371.6" font-size="21.7" text-anchor="end" font-weight="bold" fill="#000" >25</text><text x="1525.0" y="297.7" font-size="21.7" text-anchor="end" font-weight="bold" fill="#000" >50</text><text x="1525.0" y="223.8" font-size="21.7" text-anchor="end" font-weight="bold" fill="#000" >75</text><text x="1525.0" y="149.9" font-size="21.7" text-anchor="end" font-weight="bold" fill="#000" >100</text><text x="0" y="0" font-size="24.9" font-weight="bold" text-anchor="middle" transform="translate(1474.5,287) rotate(-90)">Cell Viability(%)</text><text x="838.5" y="473.8" font-size="17.9" text-anchor="end" font-weight="bold" fill="#000" >5nM PTX</text><text x="838.5" y="499.4" font-size="17.9" text-anchor="end" font-weight="bold" fill="#000" >0.05µM BEZ235</text><text x="838.5" y="522.4" font-size="17.9" text-anchor="end" font-weight="bold" fill="#000" >5µM Everolimus</text><text x="838.5" y="546.0" font-size="17.9" text-anchor="end" font-weight="bold" fill="#000" >50µM AZD6244</text><line x1="863.4" y1="467.1" x2="881.6" y2="467.1" stroke="#000" stroke-width="1.8"/><path d="M922.8,465.5 h9.2 M927.4,460.9 v9.2" stroke="#000" stroke-width="2"/><line x1="978.2" y1="467.1" x2="996.4" y2="467.1" stroke="#000" stroke-width="1.8"/><path d="M1042.7,465.5 h9.2 M1047.3,460.9 v9.2" stroke="#000" stroke-width="2"/><line x1="1093.2" y1="467.1" x2="1111.4" y2="467.1" stroke="#000" stroke-width="1.8"/><path d="M1162.8,465.5 h9.2 M1167.4,460.9 v9.2" stroke="#000" stroke-width="2"/><line x1="1208.1" y1="467.1" x2="1226.3" y2="467.1" stroke="#000" stroke-width="1.8"/><path d="M1272.6,465.5 h9.2 M1277.2,460.9 v9.2" stroke="#000" stroke-width="2"/><line x1="863.4" y1="490.0" x2="881.6" y2="490.0" stroke="#000" stroke-width="1.8"/><line x1="917.0" y1="490.0" x2="935.2" y2="490.0" stroke="#000" stroke-width="1.8"/><path d="M981.6,488.4 h9.2 M986.2,483.8 v9.2" stroke="#000" stroke-width="2"/><path d="M1042.7,488.4 h9.2 M1047.3,483.8 v9.2" stroke="#000" stroke-width="2"/><line x1="1093.2" y1="490.0" x2="1111.4" y2="490.0" stroke="#000" stroke-width="1.8"/><line x1="1157.0" y1="490.0" x2="1175.2" y2="490.0" stroke="#000" stroke-width="1.8"/><line x1="1210.7" y1="490.0" x2="1228.9" y2="490.0" stroke="#000" stroke-width="1.8"/><line x1="1269.4" y1="490.0" x2="1287.6" y2="490.0" stroke="#000" stroke-width="1.8"/><line x1="863.4" y1="516.9" x2="881.6" y2="516.9" stroke="#000" stroke-width="1.8"/><line x1="917.0" y1="516.9" x2="935.2" y2="516.9" stroke="#000" stroke-width="1.8"/><line x1="975.9" y1="516.9" x2="994.1" y2="516.9" stroke="#000" stroke-width="1.8"/><line x1="1039.5" y1="516.9" x2="1057.7" y2="516.9" stroke="#000" stroke-width="1.8"/><path d="M1099.0,515.3 h9.2 M1103.6,510.7 v9.2" stroke="#000" stroke-width="2"/><path d="M1160.2,515.3 h9.2 M1164.8,510.7 v9.2" stroke="#000" stroke-width="2"/><line x1="1210.7" y1="516.9" x2="1228.9" y2="516.9" stroke="#000" stroke-width="1.8"/><line x1="1269.4" y1="516.9" x2="1287.6" y2="516.9" stroke="#000" stroke-width="1.8"/><line x1="863.4" y1="539.8" x2="881.6" y2="539.8" stroke="#000" stroke-width="1.8"/><line x1="917.0" y1="539.8" x2="935.2" y2="539.8" stroke="#000" stroke-width="1.8"/><line x1="975.9" y1="539.8" x2="994.1" y2="539.8" stroke="#000" stroke-width="1.8"/><line x1="1039.5" y1="539.8" x2="1057.7" y2="539.8" stroke="#000" stroke-width="1.8"/><line x1="1093.2" y1="539.8" x2="1111.4" y2="539.8" stroke="#000" stroke-width="1.8"/><line x1="1157.0" y1="539.8" x2="1175.2" y2="539.8" stroke="#000" stroke-width="1.8"/><path d="M1216.4,538.2 h9.2 M1221.0,533.6 v9.2" stroke="#000" stroke-width="2"/><path d="M1272.5,538.2 h9.2 M1277.1,533.6 v9.2" stroke="#000" stroke-width="2"/><text x="1522.4" y="472.0" font-size="17.9" text-anchor="end" font-weight="bold" fill="#000" >0.4µM PTX</text><text x="1522.4" y="498.4" font-size="17.9" text-anchor="end" font-weight="bold" fill="#000" >0.05µM BEZ235</text><text x="1522.4" y="521.4" font-size="17.9" text-anchor="end" font-weight="bold" fill="#000" >5µM Everolimus</text><text x="1522.4" y="545.6" font-size="17.9" text-anchor="end" font-weight="bold" fill="#000" >50µM AZD6244</text><line x1="1546.6" y1="466.0" x2="1564.8" y2="466.0" stroke="#000" stroke-width="1.8"/><path d="M1606.3,464.4 h9.2 M1610.9,459.8 v9.2" stroke="#000" stroke-width="2"/><line x1="1662.0" y1="466.0" x2="1680.2" y2="466.0" stroke="#000" stroke-width="1.8"/><path d="M1726.7,464.4 h9.2 M1731.3,459.8 v9.2" stroke="#000" stroke-width="2"/><line x1="1777.2" y1="466.0" x2="1795.4" y2="466.0" stroke="#000" stroke-width="1.8"/><path d="M1847.1,464.4 h9.2 M1851.7,459.8 v9.2" stroke="#000" stroke-width="2"/><line x1="1892.4" y1="466.0" x2="1910.6" y2="466.0" stroke="#000" stroke-width="1.8"/><path d="M1957.4,464.4 h9.2 M1962.0,459.8 v9.2" stroke="#000" stroke-width="2"/><line x1="1546.6" y1="488.8" x2="1564.8" y2="488.8" stroke="#000" stroke-width="1.8"/><line x1="1600.5" y1="488.8" x2="1618.7" y2="488.8" stroke="#000" stroke-width="1.8"/><path d="M1665.3,487.2 h9.2 M1669.9,482.6 v9.2" stroke="#000" stroke-width="2"/><path d="M1726.7,487.2 h9.2 M1731.3,482.6 v9.2" stroke="#000" stroke-width="2"/><line x1="1777.2" y1="488.8" x2="1795.4" y2="488.8" stroke="#000" stroke-width="1.8"/><line x1="1841.3" y1="488.8" x2="1859.5" y2="488.8" stroke="#000" stroke-width="1.8"/><line x1="1895.2" y1="488.8" x2="1913.4" y2="488.8" stroke="#000" stroke-width="1.8"/><line x1="1954.2" y1="488.8" x2="1972.4" y2="488.8" stroke="#000" stroke-width="1.8"/><line x1="1546.6" y1="515.7" x2="1564.8" y2="515.7" stroke="#000" stroke-width="1.8"/><line x1="1600.5" y1="515.7" x2="1618.7" y2="515.7" stroke="#000" stroke-width="1.8"/><line x1="1659.3" y1="515.7" x2="1677.5" y2="515.7" stroke="#000" stroke-width="1.8"/><line x1="1723.3" y1="515.7" x2="1741.5" y2="515.7" stroke="#000" stroke-width="1.8"/><path d="M1783.1,514.1 h9.2 M1787.7,509.5 v9.2" stroke="#000" stroke-width="2"/><path d="M1844.6,514.1 h9.2 M1849.2,509.5 v9.2" stroke="#000" stroke-width="2"/><line x1="1895.2" y1="515.7" x2="1913.4" y2="515.7" stroke="#000" stroke-width="1.8"/><line x1="1954.2" y1="515.7" x2="1972.4" y2="515.7" stroke="#000" stroke-width="1.8"/><line x1="1546.6" y1="538.4" x2="1564.8" y2="538.4" stroke="#000" stroke-width="1.8"/><line x1="1600.5" y1="538.4" x2="1618.7" y2="538.4" stroke="#000" stroke-width="1.8"/><line x1="1659.3" y1="538.4" x2="1677.5" y2="538.4" stroke="#000" stroke-width="1.8"/><line x1="1723.3" y1="538.4" x2="1741.5" y2="538.4" stroke="#000" stroke-width="1.8"/><line x1="1777.2" y1="538.4" x2="1795.4" y2="538.4" stroke="#000" stroke-width="1.8"/><line x1="1841.3" y1="538.4" x2="1859.5" y2="538.4" stroke="#000" stroke-width="1.8"/><path d="M1901.1,536.8 h9.2 M1905.7,532.2 v9.2" stroke="#000" stroke-width="2"/><path d="M1957.4,536.8 h9.2 M1962.0,532.2 v9.2" stroke="#000" stroke-width="2"/><text x="841.3" y="588.1" font-size="23.8" text-anchor="end" font-weight="bold" fill="#000" >PI3k(85 kDa)</text><text x="840.0" y="673.3" font-size="23.8" text-anchor="end" font-weight="bold" fill="#000" >Akt(60 kDa)</text><text x="839.5" y="759.1" font-size="23.8" text-anchor="end" font-weight="bold" fill="#000" >pAkt(60 kDa)</text><text x="838.6" y="875.1" font-size="23.8" text-anchor="end" font-weight="bold" fill="#000" >S6(32 kDa)</text><text x="837.5" y="958.7" font-size="23.8" text-anchor="end" font-weight="bold" fill="#000" >pS6(32 kDa)</text><text x="841.5" y="1066.9" font-size="23.8" text-anchor="end" font-weight="bold" fill="#000" >Erk(44/42 kDa)</text><text x="837.5" y="1155.1" font-size="23.8" text-anchor="end" font-weight="bold" fill="#000" >pErk(44/42 kDa)</text><text x="840.9" y="1269.5" font-size="23.8" text-anchor="end" font-weight="bold" fill="#000" >β-actin(45 kDa)</text><text x="839.5" y="832.8" font-size="23.8" text-anchor="end" font-weight="bold" fill="#000" >pAkt/Akt</text><text x="836.5" y="1029.3" font-size="23.8" text-anchor="end" font-weight="bold" fill="#000" >pS6/S6</text><text x="835.5" y="1225.9" font-size="23.8" text-anchor="end" font-weight="bold" fill="#000" >pErk/Erk</text><text x="875.8" y="633.6" font-size="23.5" text-anchor="middle" font-weight="bold" fill="#000" >0.7</text><text x="935.6" y="633.6" font-size="23.5" text-anchor="middle" font-weight="bold" fill="#000" >0.7</text><text x="989.4" y="633.6" font-size="23.5" text-anchor="middle" font-weight="bold" fill="#000" >0.6</text><text x="1045.8" y="633.6" font-size="23.5" text-anchor="middle" font-weight="bold" fill="#000" >0.8</text><text x="1105.6" y="633.6" font-size="23.5" text-anchor="middle" font-weight="bold" fill="#000" >0.8</text><text x="1163.1" y="633.6" font-size="23.5" text-anchor="middle" font-weight="bold" fill="#000" >0.8</text><text x="1217.9" y="633.6" font-size="23.5" text-anchor="middle" font-weight="bold" fill="#000" >0.8</text><text x="1272.3" y="633.6" font-size="23.5" text-anchor="middle" font-weight="bold" fill="#000" >0.8</text><text x="875.8" y="719.3" font-size="23.5" text-anchor="middle" font-weight="bold" fill="#000" >0.8</text><text x="935.6" y="719.3" font-size="23.5" text-anchor="middle" font-weight="bold" fill="#000" >0.8</text><text x="989.4" y="719.3" font-size="23.5" text-anchor="middle" font-weight="bold" fill="#000" >0.9</text><text x="1045.8" y="719.3" font-size="23.5" text-anchor="middle" font-weight="bold" fill="#000" >1.0</text><text x="1105.6" y="719.3" font-size="23.5" text-anchor="middle" font-weight="bold" fill="#000" >0.8</text><text x="1163.1" y="719.3" font-size="23.5" text-anchor="middle" font-weight="bold" fill="#000" >0.9</text><text x="1217.9" y="719.3" font-size="23.5" text-anchor="middle" font-weight="bold" fill="#000" >1.0</text><text x="1272.3" y="719.3" font-size="23.5" text-anchor="middle" font-weight="bold" fill="#000" >0.9</text><text x="875.8" y="803.3" font-size="23.5" text-anchor="middle" font-weight="bold" fill="#000" >0.6</text><text x="935.6" y="803.3" font-size="23.5" text-anchor="middle" font-weight="bold" fill="#000" >0.8</text><text x="989.4" y="803.3" font-size="23.5" text-anchor="middle" font-weight="bold" fill="#000" >0.5</text><text x="1045.8" y="803.3" font-size="23.5" text-anchor="middle" font-weight="bold" fill="#000" >0.7</text><text x="1105.6" y="803.3" font-size="23.5" text-anchor="middle" font-weight="bold" fill="#000" >0.7</text><text x="1163.1" y="803.3" font-size="23.5" text-anchor="middle" font-weight="bold" fill="#000" >0.8</text><text x="1217.9" y="803.3" font-size="23.5" text-anchor="middle" font-weight="bold" fill="#000" >1.0</text><text x="1272.3" y="803.3" font-size="23.5" text-anchor="middle" font-weight="bold" fill="#000" >1.0</text><text x="875.8" y="832.9" font-size="23.5" text-anchor="middle" font-weight="bold" fill="#000" >0.8</text><text x="935.6" y="832.9" font-size="23.5" text-anchor="middle" font-weight="bold" fill="#000" >1.0</text><text x="989.4" y="832.9" font-size="23.5" text-anchor="middle" font-weight="bold" fill="#000" >0.6</text><text x="1045.8" y="832.9" font-size="23.5" text-anchor="middle" font-weight="bold" fill="#000" >0.7</text><text x="1105.6" y="832.9" font-size="23.5" text-anchor="middle" font-weight="bold" fill="#000" >1.0</text><text x="1163.1" y="832.9" font-size="23.5" text-anchor="middle" font-weight="bold" fill="#000" >1.0</text><text x="1217.9" y="832.9" font-size="23.5" text-anchor="middle" font-weight="bold" fill="#000" >1.1</text><text x="1272.3" y="832.9" font-size="23.5" text-anchor="middle" font-weight="bold" fill="#000" >1.2</text><text x="875.8" y="918.6" font-size="23.5" text-anchor="middle" font-weight="bold" fill="#000" >0.9</text><text x="935.6" y="918.6" font-size="23.5" text-anchor="middle" font-weight="bold" fill="#000" >0.7</text><text x="989.4" y="918.6" font-size="23.5" text-anchor="middle" font-weight="bold" fill="#000" >0.3</text><text x="1045.8" y="918.6" font-size="23.5" text-anchor="middle" font-weight="bold" fill="#000" >0.4</text><text x="1105.6" y="918.6" font-size="23.5" text-anchor="middle" font-weight="bold" fill="#000" >0.8</text><text x="1163.1" y="918.6" font-size="23.5" text-anchor="middle" font-weight="bold" fill="#000" >0.6</text><text x="1217.9" y="918.6" font-size="23.5" text-anchor="middle" font-weight="bold" fill="#000" >0.7</text><text x="1272.3" y="918.6" font-size="23.5" text-anchor="middle" font-weight="bold" fill="#000" >0.8</text><text x="875.8" y="1001.0" font-size="23.5" text-anchor="middle" font-weight="bold" fill="#000" >1.1</text><text x="935.6" y="1001.0" font-size="23.5" text-anchor="middle" font-weight="bold" fill="#000" >1.6</text><text x="989.4" y="1001.0" font-size="23.5" text-anchor="middle" font-weight="bold" fill="#000" >0.0</text><text x="1045.8" y="1001.0" font-size="23.5" text-anchor="middle" font-weight="bold" fill="#000" >0.1</text><text x="1105.6" y="1001.0" font-size="23.5" text-anchor="middle" font-weight="bold" fill="#000" >0.0</text><text x="1163.1" y="1001.0" font-size="23.5" text-anchor="middle" font-weight="bold" fill="#000" >0.0</text><text x="1217.9" y="1001.0" font-size="23.5" text-anchor="middle" font-weight="bold" fill="#000" >0.1</text><text x="1272.3" y="1001.0" font-size="23.5" text-anchor="middle" font-weight="bold" fill="#000" >0.7</text><text x="875.8" y="1029.5" font-size="23.5" text-anchor="middle" font-weight="bold" fill="#000" >1.2</text><text x="935.6" y="1029.5" font-size="23.5" text-anchor="middle" font-weight="bold" fill="#000" >2.3</text><text x="989.4" y="1029.5" font-size="23.5" text-anchor="middle" font-weight="bold" fill="#000" >0.0</text><text x="1045.8" y="1029.5" font-size="23.5" text-anchor="middle" font-weight="bold" fill="#000" >0.3</text><text x="1105.6" y="1029.5" font-size="23.5" text-anchor="middle" font-weight="bold" fill="#000" >0.0</text><text x="1163.1" y="1029.5" font-size="23.5" text-anchor="middle" font-weight="bold" fill="#000" >0.0</text><text x="1217.9" y="1029.5" font-size="23.5" text-anchor="middle" font-weight="bold" fill="#000" >0.1</text><text x="1272.3" y="1029.5" font-size="23.5" text-anchor="middle" font-weight="bold" fill="#000" >0.9</text><text x="875.8" y="1111.9" font-size="23.5" text-anchor="middle" font-weight="bold" fill="#000" >1.4</text><text x="935.6" y="1111.9" font-size="23.5" text-anchor="middle" font-weight="bold" fill="#000" >1.3</text><text x="989.4" y="1111.9" font-size="23.5" text-anchor="middle" font-weight="bold" fill="#000" >1.3</text><text x="1045.8" y="1111.9" font-size="23.5" text-anchor="middle" font-weight="bold" fill="#000" >1.5</text><text x="1105.6" y="1111.9" font-size="23.5" text-anchor="middle" font-weight="bold" fill="#000" >1.3</text><text x="1163.1" y="1111.9" font-size="23.5" text-anchor="middle" font-weight="bold" fill="#000" >1.4</text><text x="1217.9" y="1111.9" font-size="23.5" text-anchor="middle" font-weight="bold" fill="#000" >1.4</text><text x="1272.3" y="1111.9" font-size="23.5" text-anchor="middle" font-weight="bold" fill="#000" >1.3</text><text x="875.8" y="1196.9" font-size="23.5" text-anchor="middle" font-weight="bold" fill="#000" >1.4</text><text x="935.6" y="1196.9" font-size="23.5" text-anchor="middle" font-weight="bold" fill="#000" >1.1</text><text x="989.4" y="1196.9" font-size="23.5" text-anchor="middle" font-weight="bold" fill="#000" >0.9</text><text x="1045.8" y="1196.9" font-size="23.5" text-anchor="middle" font-weight="bold" fill="#000" >1.8</text><text x="1105.6" y="1196.9" font-size="23.5" text-anchor="middle" font-weight="bold" fill="#000" >1.1</text><text x="1163.1" y="1196.9" font-size="23.5" text-anchor="middle" font-weight="bold" fill="#000" >1.6</text><text x="1217.9" y="1196.9" font-size="23.5" text-anchor="middle" font-weight="bold" fill="#000" >0.4</text><text x="1272.3" y="1196.9" font-size="23.5" text-anchor="middle" font-weight="bold" fill="#000" >0.9</text><text x="875.8" y="1226.1" font-size="23.5" text-anchor="middle" font-weight="bold" fill="#000" >1.0</text><text x="935.6" y="1226.1" font-size="23.5" text-anchor="middle" font-weight="bold" fill="#000" >0.8</text><text x="989.4" y="1226.1" font-size="23.5" text-anchor="middle" font-weight="bold" fill="#000" >0.7</text><text x="1045.8" y="1226.1" font-size="23.5" text-anchor="middle" font-weight="bold" fill="#000" >1.2</text><text x="1105.6" y="1226.1" font-size="23.5" text-anchor="middle" font-weight="bold" fill="#000" >0.8</text><text x="1163.1" y="1226.1" font-size="23.5" text-anchor="middle" font-weight="bold" fill="#000" >1.1</text><text x="1217.9" y="1226.1" font-size="23.5" text-anchor="middle" font-weight="bold" fill="#000" >0.3</text><text x="1272.3" y="1226.1" font-size="23.5" text-anchor="middle" font-weight="bold" fill="#000" >0.7</text><clipPath id="c10"><rect x="849.5" y="556" width="453.5" height="50.5"/></clipPath><g clip-path="url(#c10)"><rect x="849.5" y="556" width="453.5" height="50.5" fill="#cdcdcd"/><linearGradient id="g10" x1="0" y1="0" x2="0" y2="1"><stop offset="0" stop-color="#000" stop-opacity="0.08"/><stop offset="0.3" stop-color="#000" stop-opacity="0"/><stop offset="0.8" stop-color="#000" stop-opacity="0.0"/><stop offset="1" stop-color="#000" stop-opacity="0.12"/></linearGradient><rect x="849.5" y="556" width="453.5" height="50.5" fill="url(#g10)"/><linearGradient id="h10" x1="0" y1="0" x2="1" y2="0"><stop offset="0" stop-color="#000" stop-opacity="0.1"/><stop offset="0.03" stop-color="#000" stop-opacity="0"/><stop offset="0.97" stop-color="#000" stop-opacity="0"/><stop offset="1" stop-color="#000" stop-opacity="0.1"/></linearGradient><rect x="849.5" y="556" width="453.5" height="50.5" fill="url(#h10)"/><rect x="900.0" y="546" width="10" height="70.5" fill="#e6e6e6" filter="url(#f8)"/><rect x="956.0" y="546" width="10" height="70.5" fill="#e6e6e6" filter="url(#f8)"/><rect x="1012.0" y="546" width="10" height="70.5" fill="#e6e6e6" filter="url(#f8)"/><rect x="1068.0" y="546" width="10" height="70.5" fill="#e6e6e6" filter="url(#f8)"/><rect x="1124.0" y="546" width="10" height="70.5" fill="#e6e6e6" filter="url(#f8)"/><rect x="1180.0" y="546" width="10" height="70.5" fill="#e6e6e6" filter="url(#f8)"/><rect x="1236.5" y="546" width="10" height="70.5" fill="#e6e6e6" filter="url(#f8)"/><rect x="852.0" y="569.4" width="50" height="26.4" rx="13.2" fill="#000" fill-opacity="0.270" filter="url(#f12)"/><rect x="854.0" y="576.6" width="46" height="12" rx="4.8" fill="#000" fill-opacity="0.9" filter="url(#f6)"/><rect x="908.5" y="567.1" width="50" height="26.4" rx="13.2" fill="#000" fill-opacity="0.255" filter="url(#f12)"/><rect x="910.5" y="574.3" width="46" height="12" rx="4.8" fill="#000" fill-opacity="0.85" filter="url(#f6)"/><rect x="963.5" y="565.3" width="50" height="26.4" rx="13.2" fill="#000" fill-opacity="0.180" filter="url(#f12)"/><rect x="965.5" y="572.5" width="46" height="12" rx="4.8" fill="#000" fill-opacity="0.6" filter="url(#f6)"/><rect x="1020.0" y="565.3" width="50" height="26.4" rx="13.2" fill="#000" fill-opacity="0.255" filter="url(#f12)"/><rect x="1022.0" y="572.5" width="46" height="12" rx="4.8" fill="#000" fill-opacity="0.85" filter="url(#f6)"/><rect x="1076.0" y="570.6" width="50" height="26.4" rx="13.2" fill="#000" fill-opacity="0.300" filter="url(#f12)"/><rect x="1078.0" y="577.8" width="46" height="12" rx="4.8" fill="#000" fill-opacity="1.0" filter="url(#f6)"/><rect x="1132.4" y="568.8" width="50" height="26.4" rx="13.2" fill="#000" fill-opacity="0.276" filter="url(#f12)"/><rect x="1134.4" y="576.0" width="46" height="12" rx="4.8" fill="#000" fill-opacity="0.92" filter="url(#f6)"/><rect x="1188.0" y="568.8" width="50" height="26.4" rx="13.2" fill="#000" fill-opacity="0.285" filter="url(#f12)"/><rect x="1190.0" y="576.0" width="46" height="12" rx="4.8" fill="#000" fill-opacity="0.95" filter="url(#f6)"/><rect x="1245.0" y="571.8" width="50" height="26.4" rx="13.2" fill="#000" fill-opacity="0.300" filter="url(#f12)"/><rect x="1247.0" y="579.0" width="46" height="12" rx="4.8" fill="#000" fill-opacity="1.0" filter="url(#f6)"/><rect x="852.0" y="579.2" width="50" height="30.8" rx="15.4" fill="#000" fill-opacity="0.045" filter="url(#f20)"/><rect x="854.0" y="587.6" width="46" height="14" rx="5.6" fill="#000" fill-opacity="0.15" filter="url(#f10)"/><rect x="908.5" y="576.9" width="50" height="30.8" rx="15.4" fill="#000" fill-opacity="0.045" filter="url(#f20)"/><rect x="910.5" y="585.3" width="46" height="14" rx="5.6" fill="#000" fill-opacity="0.15" filter="url(#f10)"/><rect x="963.5" y="575.1" width="50" height="30.8" rx="15.4" fill="#000" fill-opacity="0.045" filter="url(#f20)"/><rect x="965.5" y="583.5" width="46" height="14" rx="5.6" fill="#000" fill-opacity="0.15" filter="url(#f10)"/><rect x="1020.0" y="575.1" width="50" height="30.8" rx="15.4" fill="#000" fill-opacity="0.045" filter="url(#f20)"/><rect x="1022.0" y="583.5" width="46" height="14" rx="5.6" fill="#000" fill-opacity="0.15" filter="url(#f10)"/><rect x="1076.0" y="580.4" width="50" height="30.8" rx="15.4" fill="#000" fill-opacity="0.045" filter="url(#f20)"/><rect x="1078.0" y="588.8" width="46" height="14" rx="5.6" fill="#000" fill-opacity="0.15" filter="url(#f10)"/><rect x="1132.4" y="578.6" width="50" height="30.8" rx="15.4" fill="#000" fill-opacity="0.045" filter="url(#f20)"/><rect x="1134.4" y="587.0" width="46" height="14" rx="5.6" fill="#000" fill-opacity="0.15" filter="url(#f10)"/><rect x="1188.0" y="578.6" width="50" height="30.8" rx="15.4" fill="#000" fill-opacity="0.045" filter="url(#f20)"/><rect x="1190.0" y="587.0" width="46" height="14" rx="5.6" fill="#000" fill-opacity="0.15" filter="url(#f10)"/><rect x="1245.0" y="581.6" width="50" height="30.8" rx="15.4" fill="#000" fill-opacity="0.045" filter="url(#f20)"/><rect x="1247.0" y="590.0" width="46" height="14" rx="5.6" fill="#000" fill-opacity="0.15" filter="url(#f10)"/></g><rect x="849.5" y="556" width="453.5" height="50.5" rx="0" fill="none" stroke="#1a1a1a" stroke-width="1.6"/><clipPath id="c11"><rect x="849.5" y="637" width="453.5" height="58"/></clipPath><g clip-path="url(#c11)"><rect x="849.5" y="637" width="453.5" height="58" fill="#e0e0e0"/><linearGradient id="g11" x1="0" y1="0" x2="0" y2="1"><stop offset="0" stop-color="#000" stop-opacity="0.0"/><stop offset="0.7" stop-color="#000" stop-opacity="0"/><stop offset="1" stop-color="#000" stop-opacity="0.08"/></linearGradient><rect x="849.5" y="637" width="453.5" height="58" fill="url(#g11)"/><linearGradient id="h11" x1="0" y1="0" x2="1" y2="0"><stop offset="0" stop-color="#000" stop-opacity="0.1"/><stop offset="0.03" stop-color="#000" stop-opacity="0"/><stop offset="0.97" stop-color="#000" stop-opacity="0"/><stop offset="1" stop-color="#000" stop-opacity="0.1"/></linearGradient><rect x="849.5" y="637" width="453.5" height="58" fill="url(#h11)"/><rect x="900.0" y="627" width="10" height="78" fill="#ececec" filter="url(#f8)"/><rect x="956.0" y="627" width="10" height="78" fill="#ececec" filter="url(#f8)"/><rect x="1012.0" y="627" width="10" height="78" fill="#ececec" filter="url(#f8)"/><rect x="1068.0" y="627" width="10" height="78" fill="#ececec" filter="url(#f8)"/><rect x="1124.0" y="627" width="10" height="78" fill="#ececec" filter="url(#f8)"/><rect x="1180.0" y="627" width="10" height="78" fill="#ececec" filter="url(#f8)"/><rect x="1236.5" y="627" width="10" height="78" fill="#ececec" filter="url(#f8)"/><rect x="850.0" y="651.4" width="54" height="35.2" rx="17.6" fill="#000" fill-opacity="0.264" filter="url(#f14)"/><rect x="852.0" y="661.0" width="50" height="16" rx="6.4" fill="#000" fill-opacity="0.88" filter="url(#f7)"/><rect x="906.5" y="650.4" width="54" height="35.2" rx="17.6" fill="#000" fill-opacity="0.255" filter="url(#f14)"/><rect x="908.5" y="660.0" width="50" height="16" rx="6.4" fill="#000" fill-opacity="0.85" filter="url(#f7)"/><rect x="961.5" y="647.9" width="54" height="35.2" rx="17.6" fill="#000" fill-opacity="0.270" filter="url(#f14)"/><rect x="963.5" y="657.5" width="50" height="16" rx="6.4" fill="#000" fill-opacity="0.9" filter="url(#f7)"/><rect x="1018.0" y="647.9" width="54" height="35.2" rx="17.6" fill="#000" fill-opacity="0.264" filter="url(#f14)"/><rect x="1020.0" y="657.5" width="50" height="16" rx="6.4" fill="#000" fill-opacity="0.88" filter="url(#f7)"/><rect x="1074.0" y="647.4" width="54" height="35.2" rx="17.6" fill="#000" fill-opacity="0.285" filter="url(#f14)"/><rect x="1076.0" y="657.0" width="50" height="16" rx="6.4" fill="#000" fill-opacity="0.95" filter="url(#f7)"/><rect x="1130.4" y="648.4" width="54" height="35.2" rx="17.6" fill="#000" fill-opacity="0.270" filter="url(#f14)"/><rect x="1132.4" y="658.0" width="50" height="16" rx="6.4" fill="#000" fill-opacity="0.9" filter="url(#f7)"/><rect x="1186.0" y="648.4" width="54" height="35.2" rx="17.6" fill="#000" fill-opacity="0.270" filter="url(#f14)"/><rect x="1188.0" y="658.0" width="50" height="16" rx="6.4" fill="#000" fill-opacity="0.9" filter="url(#f7)"/><rect x="1243.0" y="653.4" width="54" height="35.2" rx="17.6" fill="#000" fill-opacity="0.264" filter="url(#f14)"/><rect x="1245.0" y="663.0" width="50" height="16" rx="6.4" fill="#000" fill-opacity="0.88" filter="url(#f7)"/><rect x="851.0" y="669.6" width="52" height="30.8" rx="15.4" fill="#000" fill-opacity="0.105" filter="url(#f20)"/><rect x="853.0" y="678.0" width="48" height="14" rx="5.6" fill="#000" fill-opacity="0.35" filter="url(#f10)"/><rect x="907.5" y="668.6" width="52" height="30.8" rx="15.4" fill="#000" fill-opacity="0.105" filter="url(#f20)"/><rect x="909.5" y="677.0" width="48" height="14" rx="5.6" fill="#000" fill-opacity="0.35" filter="url(#f10)"/><rect x="962.5" y="666.1" width="52" height="30.8" rx="15.4" fill="#000" fill-opacity="0.105" filter="url(#f20)"/><rect x="964.5" y="674.5" width="48" height="14" rx="5.6" fill="#000" fill-opacity="0.35" filter="url(#f10)"/><rect x="1019.0" y="666.1" width="52" height="30.8" rx="15.4" fill="#000" fill-opacity="0.105" filter="url(#f20)"/><rect x="1021.0" y="674.5" width="48" height="14" rx="5.6" fill="#000" fill-opacity="0.35" filter="url(#f10)"/><rect x="1075.0" y="665.6" width="52" height="30.8" rx="15.4" fill="#000" fill-opacity="0.105" filter="url(#f20)"/><rect x="1077.0" y="674.0" width="48" height="14" rx="5.6" fill="#000" fill-opacity="0.35" filter="url(#f10)"/><rect x="1131.4" y="666.6" width="52" height="30.8" rx="15.4" fill="#000" fill-opacity="0.105" filter="url(#f20)"/><rect x="1133.4" y="675.0" width="48" height="14" rx="5.6" fill="#000" fill-opacity="0.35" filter="url(#f10)"/><rect x="1187.0" y="666.6" width="52" height="30.8" rx="15.4" fill="#000" fill-opacity="0.105" filter="url(#f20)"/><rect x="1189.0" y="675.0" width="48" height="14" rx="5.6" fill="#000" fill-opacity="0.35" filter="url(#f10)"/><rect x="1244.0" y="671.6" width="52" height="30.8" rx="15.4" fill="#000" fill-opacity="0.105" filter="url(#f20)"/><rect x="1246.0" y="680.0" width="48" height="14" rx="5.6" fill="#000" fill-opacity="0.35" filter="url(#f10)"/></g><rect x="849.5" y="637" width="453.5" height="58" rx="0" fill="none" stroke="#1a1a1a" stroke-width="1.6"/><clipPath id="c12"><rect x="849.5" y="723.3" width="453.5" height="56.5"/></clipPath><g clip-path="url(#c12)"><rect x="849.5" y="723.3" width="453.5" height="56.5" fill="#e6e6e6"/><linearGradient id="g12" x1="0" y1="0" x2="0" y2="1"><stop offset="0" stop-color="#000" stop-opacity="0.0"/><stop offset="0.7" stop-color="#000" stop-opacity="0"/><stop offset="1" stop-color="#000" stop-opacity="0.06"/></linearGradient><rect x="849.5" y="723.3" width="453.5" height="56.5" fill="url(#g12)"/><linearGradient id="h12" x1="0" y1="0" x2="1" y2="0"><stop offset="0" stop-color="#000" stop-opacity="0.08"/><stop offset="0.03" stop-color="#000" stop-opacity="0"/><stop offset="0.97" stop-color="#000" stop-opacity="0"/><stop offset="1" stop-color="#000" stop-opacity="0.08"/></linearGradient><rect x="849.5" y="723.3" width="453.5" height="56.5" fill="url(#h12)"/><rect x="851.0" y="738.0" width="52" height="28.6" rx="14.3" fill="#000" fill-opacity="0.180" filter="url(#f14)"/><rect x="853.0" y="745.8" width="48" height="13" rx="5.2" fill="#000" fill-opacity="0.6" filter="url(#f7)"/><rect x="907.5" y="737.7" width="52" height="28.6" rx="14.3" fill="#000" fill-opacity="0.255" filter="url(#f14)"/><rect x="909.5" y="745.5" width="48" height="13" rx="5.2" fill="#000" fill-opacity="0.85" filter="url(#f7)"/><rect x="962.5" y="737.7" width="52" height="28.6" rx="14.3" fill="#000" fill-opacity="0.150" filter="url(#f14)"/><rect x="964.5" y="745.5" width="48" height="13" rx="5.2" fill="#000" fill-opacity="0.5" filter="url(#f7)"/><rect x="1019.0" y="737.7" width="52" height="28.6" rx="14.3" fill="#000" fill-opacity="0.210" filter="url(#f14)"/><rect x="1021.0" y="745.5" width="48" height="13" rx="5.2" fill="#000" fill-opacity="0.7" filter="url(#f7)"/><rect x="1075.0" y="738.0" width="52" height="28.6" rx="14.3" fill="#000" fill-opacity="0.276" filter="url(#f14)"/><rect x="1077.0" y="745.8" width="48" height="13" rx="5.2" fill="#000" fill-opacity="0.92" filter="url(#f7)"/><rect x="1131.4" y="738.2" width="52" height="28.6" rx="14.3" fill="#000" fill-opacity="0.285" filter="url(#f14)"/><rect x="1133.4" y="746.0" width="48" height="13" rx="5.2" fill="#000" fill-opacity="0.95" filter="url(#f7)"/><rect x="1187.0" y="739.2" width="52" height="28.6" rx="14.3" fill="#000" fill-opacity="0.300" filter="url(#f14)"/><rect x="1189.0" y="747.0" width="48" height="13" rx="5.2" fill="#000" fill-opacity="1.0" filter="url(#f7)"/><rect x="1244.0" y="742.2" width="52" height="28.6" rx="14.3" fill="#000" fill-opacity="0.300" filter="url(#f14)"/><rect x="1246.0" y="750.0" width="48" height="13" rx="5.2" fill="#000" fill-opacity="1.0" filter="url(#f7)"/><rect x="853.0" y="753.3" width="48" height="22.0" rx="11.0" fill="#000" fill-opacity="0.036" filter="url(#f20)"/><rect x="855.0" y="759.3" width="44" height="10" rx="4.0" fill="#000" fill-opacity="0.12" filter="url(#f10)"/><rect x="909.5" y="753.0" width="48" height="22.0" rx="11.0" fill="#000" fill-opacity="0.036" filter="url(#f20)"/><rect x="911.5" y="759.0" width="44" height="10" rx="4.0" fill="#000" fill-opacity="0.12" filter="url(#f10)"/><rect x="964.5" y="753.0" width="48" height="22.0" rx="11.0" fill="#000" fill-opacity="0.036" filter="url(#f20)"/><rect x="966.5" y="759.0" width="44" height="10" rx="4.0" fill="#000" fill-opacity="0.12" filter="url(#f10)"/><rect x="1021.0" y="753.0" width="48" height="22.0" rx="11.0" fill="#000" fill-opacity="0.036" filter="url(#f20)"/><rect x="1023.0" y="759.0" width="44" height="10" rx="4.0" fill="#000" fill-opacity="0.12" filter="url(#f10)"/><rect x="1077.0" y="753.3" width="48" height="22.0" rx="11.0" fill="#000" fill-opacity="0.036" filter="url(#f20)"/><rect x="1079.0" y="759.3" width="44" height="10" rx="4.0" fill="#000" fill-opacity="0.12" filter="url(#f10)"/><rect x="1133.4" y="753.5" width="48" height="22.0" rx="11.0" fill="#000" fill-opacity="0.036" filter="url(#f20)"/><rect x="1135.4" y="759.5" width="44" height="10" rx="4.0" fill="#000" fill-opacity="0.12" filter="url(#f10)"/><rect x="1189.0" y="754.5" width="48" height="22.0" rx="11.0" fill="#000" fill-opacity="0.036" filter="url(#f20)"/><rect x="1191.0" y="760.5" width="44" height="10" rx="4.0" fill="#000" fill-opacity="0.12" filter="url(#f10)"/><rect x="1246.0" y="757.5" width="48" height="22.0" rx="11.0" fill="#000" fill-opacity="0.036" filter="url(#f20)"/><rect x="1248.0" y="763.5" width="44" height="10" rx="4.0" fill="#000" fill-opacity="0.12" filter="url(#f10)"/></g><rect x="849.5" y="723.3" width="453.5" height="56.5" rx="0" fill="none" stroke="#1a1a1a" stroke-width="1.6"/><clipPath id="c13"><rect x="849.5" y="839.3" width="453.5" height="55.200000000000045"/></clipPath><g clip-path="url(#c13)"><rect x="849.5" y="839.3" width="453.5" height="55.200000000000045" fill="#e2e2e2"/><linearGradient id="g13" x1="0" y1="0" x2="0" y2="1"><stop offset="0" stop-color="#000" stop-opacity="0.0"/><stop offset="0.7" stop-color="#000" stop-opacity="0"/><stop offset="1" stop-color="#000" stop-opacity="0.08"/></linearGradient><rect x="849.5" y="839.3" width="453.5" height="55.200000000000045" fill="url(#g13)"/><linearGradient id="h13" x1="0" y1="0" x2="1" y2="0"><stop offset="0" stop-color="#000" stop-opacity="0.08"/><stop offset="0.03" stop-color="#000" stop-opacity="0"/><stop offset="0.97" stop-color="#000" stop-opacity="0"/><stop offset="1" stop-color="#000" stop-opacity="0.08"/></linearGradient><rect x="849.5" y="839.3" width="453.5" height="55.200000000000045" fill="url(#h13)"/><rect x="850.0" y="848.0" width="54" height="39.6" rx="19.8" fill="#000" fill-opacity="0.300" filter="url(#f14)"/><rect x="852.0" y="858.8" width="50" height="18" rx="7.2" fill="#000" fill-opacity="1.0" filter="url(#f7)"/><rect x="906.5" y="844.5" width="54" height="39.6" rx="19.8" fill="#000" fill-opacity="0.270" filter="url(#f14)"/><rect x="908.5" y="855.3" width="50" height="18" rx="7.2" fill="#000" fill-opacity="0.9" filter="url(#f7)"/><rect x="961.5" y="841.0" width="54" height="39.6" rx="19.8" fill="#000" fill-opacity="0.090" filter="url(#f14)"/><rect x="963.5" y="851.8" width="50" height="18" rx="7.2" fill="#000" fill-opacity="0.3" filter="url(#f7)"/><rect x="1018.0" y="841.2" width="54" height="39.6" rx="19.8" fill="#000" fill-opacity="0.126" filter="url(#f14)"/><rect x="1020.0" y="852.0" width="50" height="18" rx="7.2" fill="#000" fill-opacity="0.42" filter="url(#f7)"/><rect x="1074.0" y="842.2" width="54" height="39.6" rx="19.8" fill="#000" fill-opacity="0.255" filter="url(#f14)"/><rect x="1076.0" y="853.0" width="50" height="18" rx="7.2" fill="#000" fill-opacity="0.85" filter="url(#f7)"/><rect x="1130.4" y="845.6" width="54" height="39.6" rx="19.8" fill="#000" fill-opacity="0.210" filter="url(#f14)"/><rect x="1132.4" y="856.4" width="50" height="18" rx="7.2" fill="#000" fill-opacity="0.7" filter="url(#f7)"/><rect x="1186.0" y="849.2" width="54" height="39.6" rx="19.8" fill="#000" fill-opacity="0.180" filter="url(#f14)"/><rect x="1188.0" y="860.0" width="50" height="18" rx="7.2" fill="#000" fill-opacity="0.6" filter="url(#f7)"/><rect x="1243.0" y="853.8" width="54" height="39.6" rx="19.8" fill="#000" fill-opacity="0.240" filter="url(#f14)"/><rect x="1245.0" y="864.6" width="50" height="18" rx="7.2" fill="#000" fill-opacity="0.8" filter="url(#f7)"/><rect x="851.0" y="866.4" width="52" height="35.2" rx="17.6" fill="#000" fill-opacity="0.120" filter="url(#f16)"/><rect x="853.0" y="876.0" width="48" height="16" rx="6.4" fill="#000" fill-opacity="0.4" filter="url(#f8)"/><rect x="907.5" y="866.4" width="52" height="35.2" rx="17.6" fill="#000" fill-opacity="0.150" filter="url(#f16)"/><rect x="909.5" y="876.0" width="48" height="16" rx="6.4" fill="#000" fill-opacity="0.5" filter="url(#f8)"/><rect x="962.5" y="866.4" width="52" height="35.2" rx="17.6" fill="#000" fill-opacity="0.015" filter="url(#f16)"/><rect x="964.5" y="876.0" width="48" height="16" rx="6.4" fill="#000" fill-opacity="0.05" filter="url(#f8)"/><rect x="1019.0" y="866.4" width="52" height="35.2" rx="17.6" fill="#000" fill-opacity="0.090" filter="url(#f16)"/><rect x="1021.0" y="876.0" width="48" height="16" rx="6.4" fill="#000" fill-opacity="0.3" filter="url(#f8)"/><rect x="1075.0" y="866.4" width="52" height="35.2" rx="17.6" fill="#000" fill-opacity="0.105" filter="url(#f16)"/><rect x="1077.0" y="876.0" width="48" height="16" rx="6.4" fill="#000" fill-opacity="0.35" filter="url(#f8)"/><rect x="1131.4" y="866.4" width="52" height="35.2" rx="17.6" fill="#000" fill-opacity="0.114" filter="url(#f16)"/><rect x="1133.4" y="876.0" width="48" height="16" rx="6.4" fill="#000" fill-opacity="0.38" filter="url(#f8)"/><rect x="1187.0" y="866.4" width="52" height="35.2" rx="17.6" fill="#000" fill-opacity="0.045" filter="url(#f16)"/><rect x="1189.0" y="876.0" width="48" height="16" rx="6.4" fill="#000" fill-opacity="0.15" filter="url(#f8)"/><rect x="1244.0" y="866.4" width="52" height="35.2" rx="17.6" fill="#000" fill-opacity="0.120" filter="url(#f16)"/><rect x="1246.0" y="876.0" width="48" height="16" rx="6.4" fill="#000" fill-opacity="0.4" filter="url(#f8)"/></g><rect x="849.5" y="839.3" width="453.5" height="55.200000000000045" rx="0" fill="none" stroke="#1a1a1a" stroke-width="1.6"/><clipPath id="c14"><rect x="849.5" y="922.7" width="453.5" height="55.799999999999955"/></clipPath><g clip-path="url(#c14)"><rect x="849.5" y="922.7" width="453.5" height="55.799999999999955" fill="#a4a4a4"/><linearGradient id="g14" x1="0" y1="0" x2="0" y2="1"><stop offset="0" stop-color="#000" stop-opacity="0.06"/><stop offset="0.5" stop-color="#000" stop-opacity="0"/><stop offset="1" stop-color="#000" stop-opacity="0.1"/></linearGradient><rect x="849.5" y="922.7" width="453.5" height="55.799999999999955" fill="url(#g14)"/><linearGradient id="h14" x1="0" y1="0" x2="1" y2="0"><stop offset="0" stop-color="#000" stop-opacity="0.12"/><stop offset="0.03" stop-color="#000" stop-opacity="0"/><stop offset="0.97" stop-color="#000" stop-opacity="0"/><stop offset="1" stop-color="#000" stop-opacity="0.12"/></linearGradient><rect x="849.5" y="922.7" width="453.5" height="55.799999999999955" fill="url(#h14)"/><rect x="850.0" y="945.3" width="50" height="24.2" rx="12.1" fill="#000" fill-opacity="0.300" filter="url(#f10)"/><rect x="852.0" y="951.9" width="46" height="11" rx="4.4" fill="#000" fill-opacity="1.0" filter="url(#f5)"/><rect x="905.0" y="909.4" width="56" height="79.2" rx="28.0" fill="#000" fill-opacity="0.300" filter="url(#f12)"/><rect x="907.0" y="931.0" width="52" height="36" rx="14.4" fill="#000" fill-opacity="1.0" filter="url(#f6)"/><rect x="1022.0" y="943.3" width="46" height="15.4" rx="7.7" fill="#000" fill-opacity="0.045" filter="url(#f12)"/><rect x="1024.0" y="947.5" width="42" height="7" rx="2.8" fill="#000" fill-opacity="0.15" filter="url(#f6)"/><rect x="1135.0" y="946.4" width="44" height="13.2" rx="6.6" fill="#000" fill-opacity="0.018" filter="url(#f12)"/><rect x="1137.0" y="950.0" width="40" height="6" rx="2.4" fill="#000" fill-opacity="0.06" filter="url(#f6)"/><rect x="1192.0" y="952.4" width="42" height="13.2" rx="6.6" fill="#000" fill-opacity="0.045" filter="url(#f10)"/><rect x="1194.0" y="956.0" width="38" height="6" rx="2.4" fill="#000" fill-opacity="0.15" filter="url(#f5)"/><rect x="1247.0" y="948.3" width="50" height="22.0" rx="11.0" fill="#000" fill-opacity="0.255" filter="url(#f10)"/><rect x="1249.0" y="954.3" width="46" height="10" rx="4.0" fill="#000" fill-opacity="0.85" filter="url(#f5)"/></g><rect x="849.5" y="922.7" width="453.5" height="55.799999999999955" rx="0" fill="none" stroke="#1a1a1a" stroke-width="1.6"/><clipPath id="c15"><rect x="849.5" y="1036" width="453.5" height="56.299999999999955"/></clipPath><g clip-path="url(#c15)"><rect x="849.5" y="1036" width="453.5" height="56.299999999999955" fill="#e0e0e0"/><linearGradient id="g15" x1="0" y1="0" x2="0" y2="1"><stop offset="0" stop-color="#000" stop-opacity="0.0"/><stop offset="0.7" stop-color="#000" stop-opacity="0"/><stop offset="1" stop-color="#000" stop-opacity="0.05"/></linearGradient><rect x="849.5" y="1036" width="453.5" height="56.299999999999955" fill="url(#g15)"/><linearGradient id="h15" x1="0" y1="0" x2="1" y2="0"><stop offset="0" stop-color="#000" stop-opacity="0.08"/><stop offset="0.03" stop-color="#000" stop-opacity="0"/><stop offset="0.97" stop-color="#000" stop-opacity="0"/><stop offset="1" stop-color="#000" stop-opacity="0.08"/></linearGradient><rect x="849.5" y="1036" width="453.5" height="56.299999999999955" fill="url(#h15)"/><rect x="851.0" y="1046.3" width="52" height="22.0" rx="11.0" fill="#000" fill-opacity="0.165" filter="url(#f12)"/><rect x="853.0" y="1052.3" width="48" height="10" rx="4.0" fill="#000" fill-opacity="0.55" filter="url(#f6)"/><rect x="907.5" y="1046.3" width="52" height="22.0" rx="11.0" fill="#000" fill-opacity="0.150" filter="url(#f12)"/><rect x="909.5" y="1052.3" width="48" height="10" rx="4.0" fill="#000" fill-opacity="0.5" filter="url(#f6)"/><rect x="962.5" y="1046.3" width="52" height="22.0" rx="11.0" fill="#000" fill-opacity="0.150" filter="url(#f12)"/><rect x="964.5" y="1052.3" width="48" height="10" rx="4.0" fill="#000" fill-opacity="0.5" filter="url(#f6)"/><rect x="1019.0" y="1046.3" width="52" height="22.0" rx="11.0" fill="#000" fill-opacity="0.165" filter="url(#f12)"/><rect x="1021.0" y="1052.3" width="48" height="10" rx="4.0" fill="#000" fill-opacity="0.55" filter="url(#f6)"/><rect x="1075.0" y="1046.3" width="52" height="22.0" rx="11.0" fill="#000" fill-opacity="0.165" filter="url(#f12)"/><rect x="1077.0" y="1052.3" width="48" height="10" rx="4.0" fill="#000" fill-opacity="0.55" filter="url(#f6)"/><rect x="1131.4" y="1046.3" width="52" height="22.0" rx="11.0" fill="#000" fill-opacity="0.180" filter="url(#f12)"/><rect x="1133.4" y="1052.3" width="48" height="10" rx="4.0" fill="#000" fill-opacity="0.6" filter="url(#f6)"/><rect x="1187.0" y="1046.3" width="52" height="22.0" rx="11.0" fill="#000" fill-opacity="0.165" filter="url(#f12)"/><rect x="1189.0" y="1052.3" width="48" height="10" rx="4.0" fill="#000" fill-opacity="0.55" filter="url(#f6)"/><rect x="1244.0" y="1046.3" width="52" height="22.0" rx="11.0" fill="#000" fill-opacity="0.150" filter="url(#f12)"/><rect x="1246.0" y="1052.3" width="48" height="10" rx="4.0" fill="#000" fill-opacity="0.5" filter="url(#f6)"/><rect x="850.0" y="1059.3" width="54" height="28.6" rx="14.3" fill="#000" fill-opacity="0.276" filter="url(#f12)"/><rect x="852.0" y="1067.1" width="50" height="13" rx="5.2" fill="#000" fill-opacity="0.92" filter="url(#f6)"/><rect x="906.5" y="1057.7" width="54" height="28.6" rx="14.3" fill="#000" fill-opacity="0.255" filter="url(#f12)"/><rect x="908.5" y="1065.5" width="50" height="13" rx="5.2" fill="#000" fill-opacity="0.85" filter="url(#f6)"/><rect x="961.5" y="1054.7" width="54" height="28.6" rx="14.3" fill="#000" fill-opacity="0.240" filter="url(#f12)"/><rect x="963.5" y="1062.5" width="50" height="13" rx="5.2" fill="#000" fill-opacity="0.8" filter="url(#f6)"/><rect x="1018.0" y="1056.7" width="54" height="28.6" rx="14.3" fill="#000" fill-opacity="0.276" filter="url(#f12)"/><rect x="1020.0" y="1064.5" width="50" height="13" rx="5.2" fill="#000" fill-opacity="0.92" filter="url(#f6)"/><rect x="1074.0" y="1054.7" width="54" height="28.6" rx="14.3" fill="#000" fill-opacity="0.264" filter="url(#f12)"/><rect x="1076.0" y="1062.5" width="50" height="13" rx="5.2" fill="#000" fill-opacity="0.88" filter="url(#f6)"/><rect x="1130.4" y="1056.7" width="54" height="28.6" rx="14.3" fill="#000" fill-opacity="0.270" filter="url(#f12)"/><rect x="1132.4" y="1064.5" width="50" height="13" rx="5.2" fill="#000" fill-opacity="0.9" filter="url(#f6)"/><rect x="1186.0" y="1057.7" width="54" height="28.6" rx="14.3" fill="#000" fill-opacity="0.264" filter="url(#f12)"/><rect x="1188.0" y="1065.5" width="50" height="13" rx="5.2" fill="#000" fill-opacity="0.88" filter="url(#f6)"/><rect x="1243.0" y="1060.7" width="54" height="28.6" rx="14.3" fill="#000" fill-opacity="0.285" filter="url(#f12)"/><rect x="1245.0" y="1068.5" width="50" height="13" rx="5.2" fill="#000" fill-opacity="0.95" filter="url(#f6)"/></g><rect x="849.5" y="1036" width="453.5" height="56.299999999999955" rx="0" fill="none" stroke="#1a1a1a" stroke-width="1.6"/><clipPath id="c16"><rect x="849.5" y="1115.8" width="453.5" height="59.600000000000136"/></clipPath><g clip-path="url(#c16)"><rect x="849.5" y="1115.8" width="453.5" height="59.600000000000136" fill="#e0e0e0"/><linearGradient id="g16" x1="0" y1="0" x2="0" y2="1"><stop offset="0" stop-color="#000" stop-opacity="0.03"/><stop offset="0.7" stop-color="#000" stop-opacity="0"/><stop offset="1" stop-color="#000" stop-opacity="0.06"/></linearGradient><rect x="849.5" y="1115.8" width="453.5" height="59.600000000000136" fill="url(#g16)"/><linearGradient id="h16" x1="0" y1="0" x2="1" y2="0"><stop offset="0" stop-color="#000" stop-opacity="0.08"/><stop offset="0.03" stop-color="#000" stop-opacity="0"/><stop offset="0.97" stop-color="#000" stop-opacity="0"/><stop offset="1" stop-color="#000" stop-opacity="0.08"/></linearGradient><rect x="849.5" y="1115.8" width="453.5" height="59.600000000000136" fill="url(#h16)"/><rect x="851.0" y="1128.5" width="52" height="22.0" rx="11.0" fill="#000" fill-opacity="0.225" filter="url(#f12)"/><rect x="853.0" y="1134.5" width="48" height="10" rx="4.0" fill="#000" fill-opacity="0.75" filter="url(#f6)"/><rect x="907.5" y="1126.0" width="52" height="22.0" rx="11.0" fill="#000" fill-opacity="0.135" filter="url(#f12)"/><rect x="909.5" y="1132.0" width="48" height="10" rx="4.0" fill="#000" fill-opacity="0.45" filter="url(#f6)"/><rect x="962.5" y="1123.0" width="52" height="22.0" rx="11.0" fill="#000" fill-opacity="0.075" filter="url(#f12)"/><rect x="964.5" y="1129.0" width="48" height="10" rx="4.0" fill="#000" fill-opacity="0.25" filter="url(#f6)"/><rect x="1019.0" y="1124.0" width="52" height="22.0" rx="11.0" fill="#000" fill-opacity="0.255" filter="url(#f12)"/><rect x="1021.0" y="1130.0" width="48" height="10" rx="4.0" fill="#000" fill-opacity="0.85" filter="url(#f6)"/><rect x="1075.0" y="1126.0" width="52" height="22.0" rx="11.0" fill="#000" fill-opacity="0.165" filter="url(#f12)"/><rect x="1077.0" y="1132.0" width="48" height="10" rx="4.0" fill="#000" fill-opacity="0.55" filter="url(#f6)"/><rect x="1131.4" y="1127.0" width="52" height="22.0" rx="11.0" fill="#000" fill-opacity="0.240" filter="url(#f12)"/><rect x="1133.4" y="1133.0" width="48" height="10" rx="4.0" fill="#000" fill-opacity="0.8" filter="url(#f6)"/><rect x="1187.0" y="1128.0" width="52" height="22.0" rx="11.0" fill="#000" fill-opacity="0.024" filter="url(#f12)"/><rect x="1189.0" y="1134.0" width="48" height="10" rx="4.0" fill="#000" fill-opacity="0.08" filter="url(#f6)"/><rect x="1244.0" y="1130.0" width="52" height="22.0" rx="11.0" fill="#000" fill-opacity="0.120" filter="url(#f12)"/><rect x="1246.0" y="1136.0" width="48" height="10" rx="4.0" fill="#000" fill-opacity="0.4" filter="url(#f6)"/><rect x="850.0" y="1144.3" width="54" height="28.6" rx="14.3" fill="#000" fill-opacity="0.285" filter="url(#f12)"/><rect x="852.0" y="1152.1" width="50" height="13" rx="5.2" fill="#000" fill-opacity="0.95" filter="url(#f6)"/><rect x="906.5" y="1139.7" width="54" height="28.6" rx="14.3" fill="#000" fill-opacity="0.195" filter="url(#f12)"/><rect x="908.5" y="1147.5" width="50" height="13" rx="5.2" fill="#000" fill-opacity="0.65" filter="url(#f6)"/><rect x="961.5" y="1137.7" width="54" height="28.6" rx="14.3" fill="#000" fill-opacity="0.135" filter="url(#f12)"/><rect x="963.5" y="1145.5" width="50" height="13" rx="5.2" fill="#000" fill-opacity="0.45" filter="url(#f6)"/><rect x="1018.0" y="1138.5" width="54" height="28.6" rx="14.3" fill="#000" fill-opacity="0.300" filter="url(#f12)"/><rect x="1020.0" y="1146.3" width="50" height="13" rx="5.2" fill="#000" fill-opacity="1.0" filter="url(#f6)"/><rect x="1074.0" y="1139.7" width="54" height="28.6" rx="14.3" fill="#000" fill-opacity="0.195" filter="url(#f12)"/><rect x="1076.0" y="1147.5" width="50" height="13" rx="5.2" fill="#000" fill-opacity="0.65" filter="url(#f6)"/><rect x="1130.4" y="1141.7" width="54" height="28.6" rx="14.3" fill="#000" fill-opacity="0.285" filter="url(#f12)"/><rect x="1132.4" y="1149.5" width="50" height="13" rx="5.2" fill="#000" fill-opacity="0.95" filter="url(#f6)"/><rect x="1186.0" y="1144.7" width="54" height="28.6" rx="14.3" fill="#000" fill-opacity="0.084" filter="url(#f12)"/><rect x="1188.0" y="1152.5" width="50" height="13" rx="5.2" fill="#000" fill-opacity="0.28" filter="url(#f6)"/><rect x="1243.0" y="1145.7" width="54" height="28.6" rx="14.3" fill="#000" fill-opacity="0.195" filter="url(#f12)"/><rect x="1245.0" y="1153.5" width="50" height="13" rx="5.2" fill="#000" fill-opacity="0.65" filter="url(#f6)"/></g><rect x="849.5" y="1115.8" width="453.5" height="59.600000000000136" rx="0" fill="none" stroke="#1a1a1a" stroke-width="1.6"/><clipPath id="c17"><rect x="849.5" y="1233.8" width="453.5" height="56.40000000000009"/></clipPath><g clip-path="url(#c17)"><rect x="849.5" y="1233.8" width="453.5" height="56.40000000000009" fill="#e4e4e4"/><linearGradient id="g17" x1="0" y1="0" x2="0" y2="1"><stop offset="0" stop-color="#000" stop-opacity="0.0"/><stop offset="0.7" stop-color="#000" stop-opacity="0"/><stop offset="1" stop-color="#000" stop-opacity="0.05"/></linearGradient><rect x="849.5" y="1233.8" width="453.5" height="56.40000000000009" fill="url(#g17)"/><linearGradient id="h17" x1="0" y1="0" x2="1" y2="0"><stop offset="0" stop-color="#000" stop-opacity="0.08"/><stop offset="0.03" stop-color="#000" stop-opacity="0"/><stop offset="0.97" stop-color="#000" stop-opacity="0"/><stop offset="1" stop-color="#000" stop-opacity="0.08"/></linearGradient><rect x="849.5" y="1233.8" width="453.5" height="56.40000000000009" fill="url(#h17)"/><rect x="849.0" y="1245.1" width="56" height="41.8" rx="20.9" fill="#000" fill-opacity="0.270" filter="url(#f14)"/><rect x="851.0" y="1256.5" width="52" height="19" rx="7.6" fill="#000" fill-opacity="0.9" filter="url(#f7)"/><rect x="905.5" y="1245.1" width="56" height="41.8" rx="20.9" fill="#000" fill-opacity="0.276" filter="url(#f14)"/><rect x="907.5" y="1256.5" width="52" height="19" rx="7.6" fill="#000" fill-opacity="0.92" filter="url(#f7)"/><rect x="960.5" y="1240.1" width="56" height="41.8" rx="20.9" fill="#000" fill-opacity="0.276" filter="url(#f14)"/><rect x="962.5" y="1251.5" width="52" height="19" rx="7.6" fill="#000" fill-opacity="0.92" filter="url(#f7)"/><rect x="1017.0" y="1242.1" width="56" height="41.8" rx="20.9" fill="#000" fill-opacity="0.240" filter="url(#f14)"/><rect x="1019.0" y="1253.5" width="52" height="19" rx="7.6" fill="#000" fill-opacity="0.8" filter="url(#f7)"/><rect x="1073.0" y="1243.1" width="56" height="41.8" rx="20.9" fill="#000" fill-opacity="0.285" filter="url(#f14)"/><rect x="1075.0" y="1254.5" width="52" height="19" rx="7.6" fill="#000" fill-opacity="0.95" filter="url(#f7)"/><rect x="1129.4" y="1242.1" width="56" height="41.8" rx="20.9" fill="#000" fill-opacity="0.276" filter="url(#f14)"/><rect x="1131.4" y="1253.5" width="52" height="19" rx="7.6" fill="#000" fill-opacity="0.92" filter="url(#f7)"/><rect x="1185.0" y="1244.1" width="56" height="41.8" rx="20.9" fill="#000" fill-opacity="0.264" filter="url(#f14)"/><rect x="1187.0" y="1255.5" width="52" height="19" rx="7.6" fill="#000" fill-opacity="0.88" filter="url(#f7)"/><rect x="1242.0" y="1247.1" width="56" height="41.8" rx="20.9" fill="#000" fill-opacity="0.285" filter="url(#f14)"/><rect x="1244.0" y="1258.5" width="52" height="19" rx="7.6" fill="#000" fill-opacity="0.95" filter="url(#f7)"/></g><rect x="849.5" y="1233.8" width="453.5" height="56.40000000000009" rx="0" fill="none" stroke="#1a1a1a" stroke-width="1.6"/><text x="1524.0" y="588.1" font-size="23.8" text-anchor="end" font-weight="bold" fill="#000" >PI3k(85 kDa)</text><text x="1522.5" y="672.3" font-size="23.8" text-anchor="end" font-weight="bold" fill="#000" >Akt(60 kDa)</text><text x="1522.5" y="758.1" font-size="23.8" text-anchor="end" font-weight="bold" fill="#000" >pAkt(60 kDa)</text><text x="1522.5" y="874.7" font-size="23.8" text-anchor="end" font-weight="bold" fill="#000" >S6(32 kDa)</text><text x="1520.5" y="957.5" font-size="23.8" text-anchor="end" font-weight="bold" fill="#000" >pS6(32 kDa)</text><text x="1524.8" y="1067.0" font-size="23.8" text-anchor="end" font-weight="bold" fill="#000" >Erk(44/42 kDa)</text><text x="1521.5" y="1154.7" font-size="23.8" text-anchor="end" font-weight="bold" fill="#000" >pErk(44/42 kDa)</text><text x="1523.8" y="1269.5" font-size="23.8" text-anchor="end" font-weight="bold" fill="#000" >β-actin(45 kDa)</text><text x="1522.5" y="833.7" font-size="23.8" text-anchor="end" font-weight="bold" fill="#000" >pAkt/Akt</text><text x="1519.8" y="1028.2" font-size="23.8" text-anchor="end" font-weight="bold" fill="#000" >pS6/S6</text><text x="1519.1" y="1227.0" font-size="23.8" text-anchor="end" font-weight="bold" fill="#000" >pErk/Erk</text><text x="1559.1" y="627.0" font-size="19.6" text-anchor="middle" font-weight="bold" fill="#000" >0.4</text><text x="1615.7" y="627.0" font-size="19.6" text-anchor="middle" font-weight="bold" fill="#000" >0.5</text><text x="1675.7" y="627.0" font-size="19.6" text-anchor="middle" font-weight="bold" fill="#000" >0.3</text><text x="1730.6" y="627.0" font-size="19.6" text-anchor="middle" font-weight="bold" fill="#000" >0.1</text><text x="1788.9" y="627.0" font-size="19.6" text-anchor="middle" font-weight="bold" fill="#000" >0.5</text><text x="1843.5" y="627.0" font-size="19.6" text-anchor="middle" font-weight="bold" fill="#000" >0.1</text><text x="1901.1" y="627.0" font-size="19.6" text-anchor="middle" font-weight="bold" fill="#000" >0.4</text><text x="1961.0" y="627.0" font-size="19.6" text-anchor="middle" font-weight="bold" fill="#000" >0.2</text><text x="1559.1" y="712.9" font-size="19.6" text-anchor="middle" font-weight="bold" fill="#000" >0.9</text><text x="1615.7" y="712.9" font-size="19.6" text-anchor="middle" font-weight="bold" fill="#000" >1.0</text><text x="1675.7" y="712.9" font-size="19.6" text-anchor="middle" font-weight="bold" fill="#000" >1.0</text><text x="1730.6" y="712.9" font-size="19.6" text-anchor="middle" font-weight="bold" fill="#000" >1.1</text><text x="1788.9" y="712.9" font-size="19.6" text-anchor="middle" font-weight="bold" fill="#000" >1.2</text><text x="1843.5" y="712.9" font-size="19.6" text-anchor="middle" font-weight="bold" fill="#000" >1.0</text><text x="1901.1" y="712.9" font-size="19.6" text-anchor="middle" font-weight="bold" fill="#000" >1.0</text><text x="1961.0" y="712.9" font-size="19.6" text-anchor="middle" font-weight="bold" fill="#000" >1.2</text><text x="1559.1" y="798.8" font-size="19.6" text-anchor="middle" font-weight="bold" fill="#000" >0.8</text><text x="1615.7" y="798.8" font-size="19.6" text-anchor="middle" font-weight="bold" fill="#000" >0.9</text><text x="1675.7" y="798.8" font-size="19.6" text-anchor="middle" font-weight="bold" fill="#000" >0.7</text><text x="1730.6" y="798.8" font-size="19.6" text-anchor="middle" font-weight="bold" fill="#000" >0.5</text><text x="1788.9" y="798.8" font-size="19.6" text-anchor="middle" font-weight="bold" fill="#000" >1.0</text><text x="1843.5" y="798.8" font-size="19.6" text-anchor="middle" font-weight="bold" fill="#000" >0.9</text><text x="1901.1" y="798.8" font-size="19.6" text-anchor="middle" font-weight="bold" fill="#000" >1.0</text><text x="1961.0" y="798.8" font-size="19.6" text-anchor="middle" font-weight="bold" fill="#000" >1.0</text><text x="1559.1" y="832.4" font-size="19.6" text-anchor="middle" font-weight="bold" fill="#000" >0.9</text><text x="1615.7" y="832.4" font-size="19.6" text-anchor="middle" font-weight="bold" fill="#000" >0.9</text><text x="1675.7" y="832.4" font-size="19.6" text-anchor="middle" font-weight="bold" fill="#000" >0.7</text><text x="1730.6" y="832.4" font-size="19.6" text-anchor="middle" font-weight="bold" fill="#000" >0.5</text><text x="1788.9" y="832.4" font-size="19.6" text-anchor="middle" font-weight="bold" fill="#000" >0.8</text><text x="1843.5" y="832.4" font-size="19.6" text-anchor="middle" font-weight="bold" fill="#000" >0.9</text><text x="1901.1" y="832.4" font-size="19.6" text-anchor="middle" font-weight="bold" fill="#000" >1.0</text><text x="1961.0" y="832.4" font-size="19.6" text-anchor="middle" font-weight="bold" fill="#000" >0.8</text><text x="1559.1" y="915.3" font-size="19.6" text-anchor="middle" font-weight="bold" fill="#000" >0.9</text><text x="1615.7" y="915.3" font-size="19.6" text-anchor="middle" font-weight="bold" fill="#000" >1.0</text><text x="1675.7" y="915.3" font-size="19.6" text-anchor="middle" font-weight="bold" fill="#000" >1.0</text><text x="1730.6" y="915.3" font-size="19.6" text-anchor="middle" font-weight="bold" fill="#000" >0.7</text><text x="1788.9" y="915.3" font-size="19.6" text-anchor="middle" font-weight="bold" fill="#000" >1.0</text><text x="1843.5" y="915.3" font-size="19.6" text-anchor="middle" font-weight="bold" fill="#000" >0.9</text><text x="1901.1" y="915.3" font-size="19.6" text-anchor="middle" font-weight="bold" fill="#000" >0.9</text><text x="1961.0" y="915.3" font-size="19.6" text-anchor="middle" font-weight="bold" fill="#000" >0.9</text><text x="1559.1" y="998.6" font-size="19.6" text-anchor="middle" font-weight="bold" fill="#000" >0.8</text><text x="1615.7" y="998.6" font-size="19.6" text-anchor="middle" font-weight="bold" fill="#000" >1.0</text><text x="1675.7" y="998.6" font-size="19.6" text-anchor="middle" font-weight="bold" fill="#000" >0.0</text><text x="1730.6" y="998.6" font-size="19.6" text-anchor="middle" font-weight="bold" fill="#000" >0.0</text><text x="1788.9" y="998.6" font-size="19.6" text-anchor="middle" font-weight="bold" fill="#000" >0.7</text><text x="1843.5" y="998.6" font-size="19.6" text-anchor="middle" font-weight="bold" fill="#000" >0.6</text><text x="1901.1" y="998.6" font-size="19.6" text-anchor="middle" font-weight="bold" fill="#000" >0.0</text><text x="1961.0" y="998.6" font-size="19.6" text-anchor="middle" font-weight="bold" fill="#000" >0.1</text><text x="1559.1" y="1026.9" font-size="19.6" text-anchor="middle" font-weight="bold" fill="#000" >0.9</text><text x="1615.7" y="1026.9" font-size="19.6" text-anchor="middle" font-weight="bold" fill="#000" >1.0</text><text x="1675.7" y="1026.9" font-size="19.6" text-anchor="middle" font-weight="bold" fill="#000" >0.0</text><text x="1730.6" y="1026.9" font-size="19.6" text-anchor="middle" font-weight="bold" fill="#000" >0.0</text><text x="1788.9" y="1026.9" font-size="19.6" text-anchor="middle" font-weight="bold" fill="#000" >0.7</text><text x="1843.5" y="1026.9" font-size="19.6" text-anchor="middle" font-weight="bold" fill="#000" >0.7</text><text x="1901.1" y="1026.9" font-size="19.6" text-anchor="middle" font-weight="bold" fill="#000" >0.0</text><text x="1961.0" y="1026.9" font-size="19.6" text-anchor="middle" font-weight="bold" fill="#000" >0.1</text><text x="1559.1" y="1111.8" font-size="19.6" text-anchor="middle" font-weight="bold" fill="#000" >1.0</text><text x="1615.7" y="1111.8" font-size="19.6" text-anchor="middle" font-weight="bold" fill="#000" >1.4</text><text x="1675.7" y="1111.8" font-size="19.6" text-anchor="middle" font-weight="bold" fill="#000" >1.3</text><text x="1730.6" y="1111.8" font-size="19.6" text-anchor="middle" font-weight="bold" fill="#000" >1.2</text><text x="1788.9" y="1111.8" font-size="19.6" text-anchor="middle" font-weight="bold" fill="#000" >1.3</text><text x="1843.5" y="1111.8" font-size="19.6" text-anchor="middle" font-weight="bold" fill="#000" >1.3</text><text x="1901.1" y="1111.8" font-size="19.6" text-anchor="middle" font-weight="bold" fill="#000" >1.3</text><text x="1961.0" y="1111.8" font-size="19.6" text-anchor="middle" font-weight="bold" fill="#000" >1.5</text><text x="1559.1" y="1196.7" font-size="19.6" text-anchor="middle" font-weight="bold" fill="#000" >0.9</text><text x="1615.7" y="1196.7" font-size="19.6" text-anchor="middle" font-weight="bold" fill="#000" >1.0</text><text x="1675.7" y="1196.7" font-size="19.6" text-anchor="middle" font-weight="bold" fill="#000" >1.1</text><text x="1730.6" y="1196.7" font-size="19.6" text-anchor="middle" font-weight="bold" fill="#000" >0.8</text><text x="1788.9" y="1196.7" font-size="19.6" text-anchor="middle" font-weight="bold" fill="#000" >0.8</text><text x="1843.5" y="1196.7" font-size="19.6" text-anchor="middle" font-weight="bold" fill="#000" >0.8</text><text x="1901.1" y="1196.7" font-size="19.6" text-anchor="middle" font-weight="bold" fill="#000" >0.5</text><text x="1961.0" y="1196.7" font-size="19.6" text-anchor="middle" font-weight="bold" fill="#000" >0.4</text><text x="1559.1" y="1225.7" font-size="19.6" text-anchor="middle" font-weight="bold" fill="#000" >0.9</text><text x="1615.7" y="1225.7" font-size="19.6" text-anchor="middle" font-weight="bold" fill="#000" >0.7</text><text x="1675.7" y="1225.7" font-size="19.6" text-anchor="middle" font-weight="bold" fill="#000" >0.8</text><text x="1730.6" y="1225.7" font-size="19.6" text-anchor="middle" font-weight="bold" fill="#000" >0.7</text><text x="1788.9" y="1225.7" font-size="19.6" text-anchor="middle" font-weight="bold" fill="#000" >0.6</text><text x="1843.5" y="1225.7" font-size="19.6" text-anchor="middle" font-weight="bold" fill="#000" >0.6</text><text x="1901.1" y="1225.7" font-size="19.6" text-anchor="middle" font-weight="bold" fill="#000" >0.4</text><text x="1961.0" y="1225.7" font-size="19.6" text-anchor="middle" font-weight="bold" fill="#000" >0.3</text><clipPath id="c18"><rect x="1532" y="554.2" width="456.29999999999995" height="52.19999999999993"/></clipPath><g clip-path="url(#c18)"><rect x="1532" y="554.2" width="456.29999999999995" height="52.19999999999993" fill="#7c7c7c"/><linearGradient id="g18" x1="0" y1="0" x2="0" y2="1"><stop offset="0" stop-color="#000" stop-opacity="0.12"/><stop offset="0.25" stop-color="#000" stop-opacity="0"/><stop offset="0.75" stop-color="#000" stop-opacity="0"/><stop offset="1" stop-color="#000" stop-opacity="0.05"/></linearGradient><rect x="1532" y="554.2" width="456.29999999999995" height="52.19999999999993" fill="url(#g18)"/><rect x="1579.5" y="544.2" width="13" height="72.19999999999993" fill="#b4b4b4" filter="url(#f4)"/><rect x="1637.5" y="544.2" width="13" height="72.19999999999993" fill="#b4b4b4" filter="url(#f4)"/><rect x="1695.0" y="544.2" width="13" height="72.19999999999993" fill="#b4b4b4" filter="url(#f4)"/><rect x="1752.0" y="544.2" width="13" height="72.19999999999993" fill="#b4b4b4" filter="url(#f4)"/><rect x="1809.0" y="544.2" width="13" height="72.19999999999993" fill="#b4b4b4" filter="url(#f4)"/><rect x="1866.5" y="544.2" width="13" height="72.19999999999993" fill="#b4b4b4" filter="url(#f4)"/><rect x="1924.5" y="544.2" width="13" height="72.19999999999993" fill="#b4b4b4" filter="url(#f4)"/><rect x="1533.0" y="557.1" width="48" height="35.2" rx="17.6" fill="#000" fill-opacity="0.270" filter="url(#f16)"/><rect x="1535.0" y="566.7" width="44" height="16" rx="6.4" fill="#000" fill-opacity="0.9" filter="url(#f8)"/><rect x="1591.5" y="557.1" width="48" height="35.2" rx="17.6" fill="#000" fill-opacity="0.300" filter="url(#f16)"/><rect x="1593.5" y="566.7" width="44" height="16" rx="6.4" fill="#000" fill-opacity="1.0" filter="url(#f8)"/><rect x="1649.0" y="557.1" width="48" height="35.2" rx="17.6" fill="#000" fill-opacity="0.210" filter="url(#f16)"/><rect x="1651.0" y="566.7" width="44" height="16" rx="6.4" fill="#000" fill-opacity="0.7" filter="url(#f8)"/><rect x="1706.4" y="557.1" width="48" height="35.2" rx="17.6" fill="#000" fill-opacity="0.135" filter="url(#f16)"/><rect x="1708.4" y="566.7" width="44" height="16" rx="6.4" fill="#000" fill-opacity="0.45" filter="url(#f8)"/><rect x="1763.0" y="557.1" width="48" height="35.2" rx="17.6" fill="#000" fill-opacity="0.276" filter="url(#f16)"/><rect x="1765.0" y="566.7" width="44" height="16" rx="6.4" fill="#000" fill-opacity="0.92" filter="url(#f8)"/><rect x="1820.0" y="557.1" width="48" height="35.2" rx="17.6" fill="#000" fill-opacity="0.120" filter="url(#f16)"/><rect x="1822.0" y="566.7" width="44" height="16" rx="6.4" fill="#000" fill-opacity="0.4" filter="url(#f8)"/><rect x="1878.0" y="557.1" width="48" height="35.2" rx="17.6" fill="#000" fill-opacity="0.240" filter="url(#f16)"/><rect x="1880.0" y="566.7" width="44" height="16" rx="6.4" fill="#000" fill-opacity="0.8" filter="url(#f8)"/><rect x="1936.0" y="557.1" width="48" height="35.2" rx="17.6" fill="#000" fill-opacity="0.165" filter="url(#f16)"/><rect x="1938.0" y="566.7" width="44" height="16" rx="6.4" fill="#000" fill-opacity="0.55" filter="url(#f8)"/><rect x="1533.0" y="574.4" width="48" height="35.2" rx="17.6" fill="#000" fill-opacity="0.045" filter="url(#f20)"/><rect x="1535.0" y="584.0" width="44" height="16" rx="6.4" fill="#000" fill-opacity="0.15" filter="url(#f10)"/><rect x="1591.5" y="574.4" width="48" height="35.2" rx="17.6" fill="#000" fill-opacity="0.045" filter="url(#f20)"/><rect x="1593.5" y="584.0" width="44" height="16" rx="6.4" fill="#000" fill-opacity="0.15" filter="url(#f10)"/><rect x="1649.0" y="574.4" width="48" height="35.2" rx="17.6" fill="#000" fill-opacity="0.045" filter="url(#f20)"/><rect x="1651.0" y="584.0" width="44" height="16" rx="6.4" fill="#000" fill-opacity="0.15" filter="url(#f10)"/><rect x="1706.4" y="574.4" width="48" height="35.2" rx="17.6" fill="#000" fill-opacity="0.045" filter="url(#f20)"/><rect x="1708.4" y="584.0" width="44" height="16" rx="6.4" fill="#000" fill-opacity="0.15" filter="url(#f10)"/><rect x="1763.0" y="574.4" width="48" height="35.2" rx="17.6" fill="#000" fill-opacity="0.045" filter="url(#f20)"/><rect x="1765.0" y="584.0" width="44" height="16" rx="6.4" fill="#000" fill-opacity="0.15" filter="url(#f10)"/><rect x="1820.0" y="574.4" width="48" height="35.2" rx="17.6" fill="#000" fill-opacity="0.045" filter="url(#f20)"/><rect x="1822.0" y="584.0" width="44" height="16" rx="6.4" fill="#000" fill-opacity="0.15" filter="url(#f10)"/><rect x="1878.0" y="574.4" width="48" height="35.2" rx="17.6" fill="#000" fill-opacity="0.045" filter="url(#f20)"/><rect x="1880.0" y="584.0" width="44" height="16" rx="6.4" fill="#000" fill-opacity="0.15" filter="url(#f10)"/><rect x="1936.0" y="574.4" width="48" height="35.2" rx="17.6" fill="#000" fill-opacity="0.045" filter="url(#f20)"/><rect x="1938.0" y="584.0" width="44" height="16" rx="6.4" fill="#000" fill-opacity="0.15" filter="url(#f10)"/></g><rect x="1532" y="554.2" width="456.29999999999995" height="52.19999999999993" rx="0" fill="none" stroke="#1a1a1a" stroke-width="1.6"/><clipPath id="c19"><rect x="1532" y="635.8" width="456.29999999999995" height="58.700000000000045"/></clipPath><g clip-path="url(#c19)"><rect x="1532" y="635.8" width="456.29999999999995" height="58.700000000000045" fill="#ececec"/><linearGradient id="g19" x1="0" y1="0" x2="0" y2="1"><stop offset="0" stop-color="#000" stop-opacity="0.0"/><stop offset="0.7" stop-color="#000" stop-opacity="0"/><stop offset="1" stop-color="#000" stop-opacity="0.05"/></linearGradient><rect x="1532" y="635.8" width="456.29999999999995" height="58.700000000000045" fill="url(#g19)"/><linearGradient id="h19" x1="0" y1="0" x2="1" y2="0"><stop offset="0" stop-color="#000" stop-opacity="0.06"/><stop offset="0.03" stop-color="#000" stop-opacity="0"/><stop offset="0.97" stop-color="#000" stop-opacity="0"/><stop offset="1" stop-color="#000" stop-opacity="0.06"/></linearGradient><rect x="1532" y="635.8" width="456.29999999999995" height="58.700000000000045" fill="url(#h19)"/><rect x="1533.0" y="648.7" width="48" height="33.0" rx="16.5" fill="#000" fill-opacity="0.246" filter="url(#f14)"/><rect x="1535.0" y="657.7" width="44" height="15" rx="6.0" fill="#000" fill-opacity="0.82" filter="url(#f7)"/><rect x="1591.5" y="648.7" width="48" height="33.0" rx="16.5" fill="#000" fill-opacity="0.240" filter="url(#f14)"/><rect x="1593.5" y="657.7" width="44" height="15" rx="6.0" fill="#000" fill-opacity="0.8" filter="url(#f7)"/><rect x="1649.0" y="648.7" width="48" height="33.0" rx="16.5" fill="#000" fill-opacity="0.255" filter="url(#f14)"/><rect x="1651.0" y="657.7" width="44" height="15" rx="6.0" fill="#000" fill-opacity="0.85" filter="url(#f7)"/><rect x="1706.4" y="648.7" width="48" height="33.0" rx="16.5" fill="#000" fill-opacity="0.234" filter="url(#f14)"/><rect x="1708.4" y="657.7" width="44" height="15" rx="6.0" fill="#000" fill-opacity="0.78" filter="url(#f7)"/><rect x="1763.0" y="648.7" width="48" height="33.0" rx="16.5" fill="#000" fill-opacity="0.270" filter="url(#f14)"/><rect x="1765.0" y="657.7" width="44" height="15" rx="6.0" fill="#000" fill-opacity="0.9" filter="url(#f7)"/><rect x="1820.0" y="648.7" width="48" height="33.0" rx="16.5" fill="#000" fill-opacity="0.246" filter="url(#f14)"/><rect x="1822.0" y="657.7" width="44" height="15" rx="6.0" fill="#000" fill-opacity="0.82" filter="url(#f7)"/><rect x="1878.0" y="648.7" width="48" height="33.0" rx="16.5" fill="#000" fill-opacity="0.255" filter="url(#f14)"/><rect x="1880.0" y="657.7" width="44" height="15" rx="6.0" fill="#000" fill-opacity="0.85" filter="url(#f7)"/><rect x="1936.0" y="648.7" width="48" height="33.0" rx="16.5" fill="#000" fill-opacity="0.264" filter="url(#f14)"/><rect x="1938.0" y="657.7" width="44" height="15" rx="6.0" fill="#000" fill-opacity="0.88" filter="url(#f7)"/><rect x="1534.0" y="665.6" width="46" height="30.8" rx="15.4" fill="#000" fill-opacity="0.105" filter="url(#f16)"/><rect x="1536.0" y="674.0" width="42" height="14" rx="5.6" fill="#000" fill-opacity="0.35" filter="url(#f8)"/><rect x="1592.5" y="665.6" width="46" height="30.8" rx="15.4" fill="#000" fill-opacity="0.105" filter="url(#f16)"/><rect x="1594.5" y="674.0" width="42" height="14" rx="5.6" fill="#000" fill-opacity="0.35" filter="url(#f8)"/><rect x="1650.0" y="665.6" width="46" height="30.8" rx="15.4" fill="#000" fill-opacity="0.105" filter="url(#f16)"/><rect x="1652.0" y="674.0" width="42" height="14" rx="5.6" fill="#000" fill-opacity="0.35" filter="url(#f8)"/><rect x="1707.4" y="665.6" width="46" height="30.8" rx="15.4" fill="#000" fill-opacity="0.105" filter="url(#f16)"/><rect x="1709.4" y="674.0" width="42" height="14" rx="5.6" fill="#000" fill-opacity="0.35" filter="url(#f8)"/><rect x="1764.0" y="665.6" width="46" height="30.8" rx="15.4" fill="#000" fill-opacity="0.105" filter="url(#f16)"/><rect x="1766.0" y="674.0" width="42" height="14" rx="5.6" fill="#000" fill-opacity="0.35" filter="url(#f8)"/><rect x="1821.0" y="665.6" width="46" height="30.8" rx="15.4" fill="#000" fill-opacity="0.105" filter="url(#f16)"/><rect x="1823.0" y="674.0" width="42" height="14" rx="5.6" fill="#000" fill-opacity="0.35" filter="url(#f8)"/><rect x="1879.0" y="665.6" width="46" height="30.8" rx="15.4" fill="#000" fill-opacity="0.105" filter="url(#f16)"/><rect x="1881.0" y="674.0" width="42" height="14" rx="5.6" fill="#000" fill-opacity="0.35" filter="url(#f8)"/><rect x="1937.0" y="665.6" width="46" height="30.8" rx="15.4" fill="#000" fill-opacity="0.105" filter="url(#f16)"/><rect x="1939.0" y="674.0" width="42" height="14" rx="5.6" fill="#000" fill-opacity="0.35" filter="url(#f8)"/></g><rect x="1532" y="635.8" width="456.29999999999995" height="58.700000000000045" rx="0" fill="none" stroke="#1a1a1a" stroke-width="1.6"/><clipPath id="c20"><rect x="1532" y="722" width="456.29999999999995" height="57.799999999999955"/></clipPath><g clip-path="url(#c20)"><rect x="1532" y="722" width="456.29999999999995" height="57.799999999999955" fill="#ececec"/><linearGradient id="g20" x1="0" y1="0" x2="0" y2="1"><stop offset="0" stop-color="#000" stop-opacity="0.0"/><stop offset="0.7" stop-color="#000" stop-opacity="0"/><stop offset="1" stop-color="#000" stop-opacity="0.04"/></linearGradient><rect x="1532" y="722" width="456.29999999999995" height="57.799999999999955" fill="url(#g20)"/><linearGradient id="h20" x1="0" y1="0" x2="1" y2="0"><stop offset="0" stop-color="#000" stop-opacity="0.06"/><stop offset="0.03" stop-color="#000" stop-opacity="0"/><stop offset="0.97" stop-color="#000" stop-opacity="0"/><stop offset="1" stop-color="#000" stop-opacity="0.06"/></linearGradient><rect x="1532" y="722" width="456.29999999999995" height="57.799999999999955" fill="url(#h20)"/><rect x="1533.0" y="733.9" width="48" height="35.2" rx="17.6" fill="#000" fill-opacity="0.255" filter="url(#f14)"/><rect x="1535.0" y="743.5" width="44" height="16" rx="6.4" fill="#000" fill-opacity="0.85" filter="url(#f7)"/><rect x="1591.5" y="733.9" width="48" height="35.2" rx="17.6" fill="#000" fill-opacity="0.270" filter="url(#f14)"/><rect x="1593.5" y="743.5" width="44" height="16" rx="6.4" fill="#000" fill-opacity="0.9" filter="url(#f7)"/><rect x="1649.0" y="733.4" width="48" height="35.2" rx="17.6" fill="#000" fill-opacity="0.210" filter="url(#f14)"/><rect x="1651.0" y="743.0" width="44" height="16" rx="6.4" fill="#000" fill-opacity="0.7" filter="url(#f7)"/><rect x="1706.4" y="732.9" width="48" height="35.2" rx="17.6" fill="#000" fill-opacity="0.126" filter="url(#f14)"/><rect x="1708.4" y="742.5" width="44" height="16" rx="6.4" fill="#000" fill-opacity="0.42" filter="url(#f7)"/><rect x="1763.0" y="733.4" width="48" height="35.2" rx="17.6" fill="#000" fill-opacity="0.264" filter="url(#f14)"/><rect x="1765.0" y="743.0" width="44" height="16" rx="6.4" fill="#000" fill-opacity="0.88" filter="url(#f7)"/><rect x="1820.0" y="733.4" width="48" height="35.2" rx="17.6" fill="#000" fill-opacity="0.255" filter="url(#f14)"/><rect x="1822.0" y="743.0" width="44" height="16" rx="6.4" fill="#000" fill-opacity="0.85" filter="url(#f7)"/><rect x="1878.0" y="733.4" width="48" height="35.2" rx="17.6" fill="#000" fill-opacity="0.291" filter="url(#f14)"/><rect x="1880.0" y="743.0" width="44" height="16" rx="6.4" fill="#000" fill-opacity="0.97" filter="url(#f7)"/><rect x="1936.0" y="731.5" width="48" height="35.2" rx="17.6" fill="#000" fill-opacity="0.291" filter="url(#f14)"/><rect x="1938.0" y="741.1" width="44" height="16" rx="6.4" fill="#000" fill-opacity="0.97" filter="url(#f7)"/></g><rect x="1532" y="722" width="456.29999999999995" height="57.799999999999955" rx="0" fill="none" stroke="#1a1a1a" stroke-width="1.6"/><clipPath id="c21"><rect x="1532" y="839" width="456.29999999999995" height="57.200000000000045"/></clipPath><g clip-path="url(#c21)"><rect x="1532" y="839" width="456.29999999999995" height="57.200000000000045" fill="#ebebeb"/><linearGradient id="g21" x1="0" y1="0" x2="0" y2="1"><stop offset="0" stop-color="#000" stop-opacity="0.0"/><stop offset="0.7" stop-color="#000" stop-opacity="0"/><stop offset="1" stop-color="#000" stop-opacity="0.05"/></linearGradient><rect x="1532" y="839" width="456.29999999999995" height="57.200000000000045" fill="url(#g21)"/><linearGradient id="h21" x1="0" y1="0" x2="1" y2="0"><stop offset="0" stop-color="#000" stop-opacity="0.06"/><stop offset="0.03" stop-color="#000" stop-opacity="0"/><stop offset="0.97" stop-color="#000" stop-opacity="0"/><stop offset="1" stop-color="#000" stop-opacity="0.06"/></linearGradient><rect x="1532" y="839" width="456.29999999999995" height="57.200000000000045" fill="url(#h21)"/><rect x="1533.0" y="842.4" width="48" height="44.0" rx="22.0" fill="#000" fill-opacity="0.255" filter="url(#f16)"/><rect x="1535.0" y="854.4" width="44" height="20" rx="8.0" fill="#000" fill-opacity="0.85" filter="url(#f8)"/><rect x="1591.5" y="842.4" width="48" height="44.0" rx="22.0" fill="#000" fill-opacity="0.264" filter="url(#f16)"/><rect x="1593.5" y="854.4" width="44" height="20" rx="8.0" fill="#000" fill-opacity="0.88" filter="url(#f8)"/><rect x="1649.0" y="842.4" width="48" height="44.0" rx="22.0" fill="#000" fill-opacity="0.264" filter="url(#f16)"/><rect x="1651.0" y="854.4" width="44" height="20" rx="8.0" fill="#000" fill-opacity="0.88" filter="url(#f8)"/><rect x="1706.4" y="842.4" width="48" height="44.0" rx="22.0" fill="#000" fill-opacity="0.195" filter="url(#f16)"/><rect x="1708.4" y="854.4" width="44" height="20" rx="8.0" fill="#000" fill-opacity="0.65" filter="url(#f8)"/><rect x="1763.0" y="842.4" width="48" height="44.0" rx="22.0" fill="#000" fill-opacity="0.276" filter="url(#f16)"/><rect x="1765.0" y="854.4" width="44" height="20" rx="8.0" fill="#000" fill-opacity="0.92" filter="url(#f8)"/><rect x="1820.0" y="842.4" width="48" height="44.0" rx="22.0" fill="#000" fill-opacity="0.270" filter="url(#f16)"/><rect x="1822.0" y="854.4" width="44" height="20" rx="8.0" fill="#000" fill-opacity="0.9" filter="url(#f8)"/><rect x="1878.0" y="842.4" width="48" height="44.0" rx="22.0" fill="#000" fill-opacity="0.264" filter="url(#f16)"/><rect x="1880.0" y="854.4" width="44" height="20" rx="8.0" fill="#000" fill-opacity="0.88" filter="url(#f8)"/><rect x="1936.0" y="842.4" width="48" height="44.0" rx="22.0" fill="#000" fill-opacity="0.246" filter="url(#f16)"/><rect x="1938.0" y="854.4" width="44" height="20" rx="8.0" fill="#000" fill-opacity="0.82" filter="url(#f8)"/><rect x="1534.0" y="864.4" width="46" height="35.2" rx="17.6" fill="#000" fill-opacity="0.135" filter="url(#f16)"/><rect x="1536.0" y="874.0" width="42" height="16" rx="6.4" fill="#000" fill-opacity="0.45" filter="url(#f8)"/><rect x="1592.5" y="864.4" width="46" height="35.2" rx="17.6" fill="#000" fill-opacity="0.135" filter="url(#f16)"/><rect x="1594.5" y="874.0" width="42" height="16" rx="6.4" fill="#000" fill-opacity="0.45" filter="url(#f8)"/><rect x="1650.0" y="864.4" width="46" height="35.2" rx="17.6" fill="#000" fill-opacity="0.135" filter="url(#f16)"/><rect x="1652.0" y="874.0" width="42" height="16" rx="6.4" fill="#000" fill-opacity="0.45" filter="url(#f8)"/><rect x="1707.4" y="864.4" width="46" height="35.2" rx="17.6" fill="#000" fill-opacity="0.135" filter="url(#f16)"/><rect x="1709.4" y="874.0" width="42" height="16" rx="6.4" fill="#000" fill-opacity="0.45" filter="url(#f8)"/><rect x="1764.0" y="864.4" width="46" height="35.2" rx="17.6" fill="#000" fill-opacity="0.135" filter="url(#f16)"/><rect x="1766.0" y="874.0" width="42" height="16" rx="6.4" fill="#000" fill-opacity="0.45" filter="url(#f8)"/><rect x="1821.0" y="864.4" width="46" height="35.2" rx="17.6" fill="#000" fill-opacity="0.135" filter="url(#f16)"/><rect x="1823.0" y="874.0" width="42" height="16" rx="6.4" fill="#000" fill-opacity="0.45" filter="url(#f8)"/><rect x="1879.0" y="864.4" width="46" height="35.2" rx="17.6" fill="#000" fill-opacity="0.135" filter="url(#f16)"/><rect x="1881.0" y="874.0" width="42" height="16" rx="6.4" fill="#000" fill-opacity="0.45" filter="url(#f8)"/><rect x="1937.0" y="864.4" width="46" height="35.2" rx="17.6" fill="#000" fill-opacity="0.135" filter="url(#f16)"/><rect x="1939.0" y="874.0" width="42" height="16" rx="6.4" fill="#000" fill-opacity="0.45" filter="url(#f8)"/></g><rect x="1532" y="839" width="456.29999999999995" height="57.200000000000045" rx="0" fill="none" stroke="#1a1a1a" stroke-width="1.6"/><clipPath id="c22"><rect x="1532" y="921.3" width="456.29999999999995" height="56.200000000000045"/></clipPath><g clip-path="url(#c22)"><rect x="1532" y="921.3" width="456.29999999999995" height="56.200000000000045" fill="#f2f2f2"/><linearGradient id="g22" x1="0" y1="0" x2="0" y2="1"><stop offset="0" stop-color="#000" stop-opacity="0.0"/><stop offset="0.7" stop-color="#000" stop-opacity="0"/><stop offset="1" stop-color="#000" stop-opacity="0.03"/></linearGradient><rect x="1532" y="921.3" width="456.29999999999995" height="56.200000000000045" fill="url(#g22)"/><rect x="1536.0" y="935.8" width="42" height="26.4" rx="13.2" fill="#000" fill-opacity="0.255" filter="url(#f12)"/><rect x="1538.0" y="943.0" width="38" height="12" rx="4.8" fill="#000" fill-opacity="0.85" filter="url(#f6)"/><rect x="1594.5" y="931.3" width="42" height="30.8" rx="15.4" fill="#000" fill-opacity="0.300" filter="url(#f12)"/><rect x="1596.5" y="939.7" width="38" height="14" rx="5.6" fill="#000" fill-opacity="1.0" filter="url(#f6)"/><rect x="1653.0" y="940.2" width="40" height="17.6" rx="8.8" fill="#000" fill-opacity="0.015" filter="url(#f12)"/><rect x="1655.0" y="945.0" width="36" height="8" rx="3.2" fill="#000" fill-opacity="0.05" filter="url(#f6)"/><rect x="1766.0" y="940.5" width="42" height="24.2" rx="12.1" fill="#000" fill-opacity="0.216" filter="url(#f12)"/><rect x="1768.0" y="947.1" width="38" height="11" rx="4.4" fill="#000" fill-opacity="0.72" filter="url(#f6)"/><rect x="1823.0" y="940.5" width="42" height="24.2" rx="12.1" fill="#000" fill-opacity="0.210" filter="url(#f12)"/><rect x="1825.0" y="947.1" width="38" height="11" rx="4.4" fill="#000" fill-opacity="0.7" filter="url(#f6)"/><rect x="1882.0" y="944.2" width="40" height="17.6" rx="8.8" fill="#000" fill-opacity="0.015" filter="url(#f12)"/><rect x="1884.0" y="949.0" width="36" height="8" rx="3.2" fill="#000" fill-opacity="0.05" filter="url(#f6)"/><rect x="1940.0" y="941.2" width="40" height="17.6" rx="8.8" fill="#000" fill-opacity="0.036" filter="url(#f12)"/><rect x="1942.0" y="946.0" width="36" height="8" rx="3.2" fill="#000" fill-opacity="0.12" filter="url(#f6)"/></g><rect x="1532" y="921.3" width="456.29999999999995" height="56.200000000000045" rx="0" fill="none" stroke="#1a1a1a" stroke-width="1.6"/><clipPath id="c23"><rect x="1532" y="1034" width="456.29999999999995" height="57.799999999999955"/></clipPath><g clip-path="url(#c23)"><rect x="1532" y="1034" width="456.29999999999995" height="57.799999999999955" fill="#ececec"/><linearGradient id="g23" x1="0" y1="0" x2="0" y2="1"><stop offset="0" stop-color="#000" stop-opacity="0.0"/><stop offset="0.7" stop-color="#000" stop-opacity="0"/><stop offset="1" stop-color="#000" stop-opacity="0.04"/></linearGradient><rect x="1532" y="1034" width="456.29999999999995" height="57.799999999999955" fill="url(#g23)"/><rect x="1534.0" y="1044.1" width="46" height="22.0" rx="11.0" fill="#000" fill-opacity="0.135" filter="url(#f12)"/><rect x="1536.0" y="1050.1" width="42" height="10" rx="4.0" fill="#000" fill-opacity="0.45" filter="url(#f6)"/><rect x="1592.5" y="1044.1" width="46" height="22.0" rx="11.0" fill="#000" fill-opacity="0.150" filter="url(#f12)"/><rect x="1594.5" y="1050.1" width="42" height="10" rx="4.0" fill="#000" fill-opacity="0.5" filter="url(#f6)"/><rect x="1650.0" y="1044.1" width="46" height="22.0" rx="11.0" fill="#000" fill-opacity="0.150" filter="url(#f12)"/><rect x="1652.0" y="1050.1" width="42" height="10" rx="4.0" fill="#000" fill-opacity="0.5" filter="url(#f6)"/><rect x="1707.4" y="1044.1" width="46" height="22.0" rx="11.0" fill="#000" fill-opacity="0.135" filter="url(#f12)"/><rect x="1709.4" y="1050.1" width="42" height="10" rx="4.0" fill="#000" fill-opacity="0.45" filter="url(#f6)"/><rect x="1764.0" y="1044.1" width="46" height="22.0" rx="11.0" fill="#000" fill-opacity="0.135" filter="url(#f12)"/><rect x="1766.0" y="1050.1" width="42" height="10" rx="4.0" fill="#000" fill-opacity="0.45" filter="url(#f6)"/><rect x="1821.0" y="1044.1" width="46" height="22.0" rx="11.0" fill="#000" fill-opacity="0.120" filter="url(#f12)"/><rect x="1823.0" y="1050.1" width="42" height="10" rx="4.0" fill="#000" fill-opacity="0.4" filter="url(#f6)"/><rect x="1879.0" y="1044.1" width="46" height="22.0" rx="11.0" fill="#000" fill-opacity="0.135" filter="url(#f12)"/><rect x="1881.0" y="1050.1" width="42" height="10" rx="4.0" fill="#000" fill-opacity="0.45" filter="url(#f6)"/><rect x="1937.0" y="1044.1" width="46" height="22.0" rx="11.0" fill="#000" fill-opacity="0.165" filter="url(#f12)"/><rect x="1939.0" y="1050.1" width="42" height="10" rx="4.0" fill="#000" fill-opacity="0.55" filter="url(#f6)"/><rect x="1534.0" y="1057.4" width="46" height="24.2" rx="12.1" fill="#000" fill-opacity="0.216" filter="url(#f12)"/><rect x="1536.0" y="1064.0" width="42" height="11" rx="4.4" fill="#000" fill-opacity="0.72" filter="url(#f6)"/><rect x="1592.5" y="1057.4" width="46" height="24.2" rx="12.1" fill="#000" fill-opacity="0.276" filter="url(#f12)"/><rect x="1594.5" y="1064.0" width="42" height="11" rx="4.4" fill="#000" fill-opacity="0.92" filter="url(#f6)"/><rect x="1650.0" y="1057.4" width="46" height="24.2" rx="12.1" fill="#000" fill-opacity="0.255" filter="url(#f12)"/><rect x="1652.0" y="1064.0" width="42" height="11" rx="4.4" fill="#000" fill-opacity="0.85" filter="url(#f6)"/><rect x="1707.4" y="1057.4" width="46" height="24.2" rx="12.1" fill="#000" fill-opacity="0.225" filter="url(#f12)"/><rect x="1709.4" y="1064.0" width="42" height="11" rx="4.4" fill="#000" fill-opacity="0.75" filter="url(#f6)"/><rect x="1764.0" y="1057.4" width="46" height="24.2" rx="12.1" fill="#000" fill-opacity="0.264" filter="url(#f12)"/><rect x="1766.0" y="1064.0" width="42" height="11" rx="4.4" fill="#000" fill-opacity="0.88" filter="url(#f6)"/><rect x="1821.0" y="1058.9" width="46" height="24.2" rx="12.1" fill="#000" fill-opacity="0.264" filter="url(#f12)"/><rect x="1823.0" y="1065.5" width="42" height="11" rx="4.4" fill="#000" fill-opacity="0.88" filter="url(#f6)"/><rect x="1879.0" y="1058.9" width="46" height="24.2" rx="12.1" fill="#000" fill-opacity="0.270" filter="url(#f12)"/><rect x="1881.0" y="1065.5" width="42" height="11" rx="4.4" fill="#000" fill-opacity="0.9" filter="url(#f6)"/><rect x="1937.0" y="1058.9" width="46" height="24.2" rx="12.1" fill="#000" fill-opacity="0.285" filter="url(#f12)"/><rect x="1939.0" y="1065.5" width="42" height="11" rx="4.4" fill="#000" fill-opacity="0.95" filter="url(#f6)"/></g><rect x="1532" y="1034" width="456.29999999999995" height="57.799999999999955" rx="0" fill="none" stroke="#1a1a1a" stroke-width="1.6"/><clipPath id="c24"><rect x="1532" y="1115" width="456.29999999999995" height="60.200000000000045"/></clipPath><g clip-path="url(#c24)"><rect x="1532" y="1115" width="456.29999999999995" height="60.200000000000045" fill="#dadada"/><linearGradient id="g24" x1="0" y1="0" x2="0" y2="1"><stop offset="0" stop-color="#000" stop-opacity="0.05"/><stop offset="0.5" stop-color="#000" stop-opacity="0"/><stop offset="1" stop-color="#000" stop-opacity="0.08"/></linearGradient><rect x="1532" y="1115" width="456.29999999999995" height="60.200000000000045" fill="url(#g24)"/><rect x="1534.0" y="1115.6" width="46" height="35.2" rx="17.6" fill="#000" fill-opacity="0.105" filter="url(#f16)"/><rect x="1536.0" y="1125.2" width="42" height="16" rx="6.4" fill="#000" fill-opacity="0.35" filter="url(#f8)"/><rect x="1592.5" y="1115.6" width="46" height="35.2" rx="17.6" fill="#000" fill-opacity="0.135" filter="url(#f16)"/><rect x="1594.5" y="1125.2" width="42" height="16" rx="6.4" fill="#000" fill-opacity="0.45" filter="url(#f8)"/><rect x="1650.0" y="1115.6" width="46" height="35.2" rx="17.6" fill="#000" fill-opacity="0.150" filter="url(#f16)"/><rect x="1652.0" y="1125.2" width="42" height="16" rx="6.4" fill="#000" fill-opacity="0.5" filter="url(#f8)"/><rect x="1707.4" y="1115.6" width="46" height="35.2" rx="17.6" fill="#000" fill-opacity="0.090" filter="url(#f16)"/><rect x="1709.4" y="1125.2" width="42" height="16" rx="6.4" fill="#000" fill-opacity="0.3" filter="url(#f8)"/><rect x="1764.0" y="1115.6" width="46" height="35.2" rx="17.6" fill="#000" fill-opacity="0.105" filter="url(#f16)"/><rect x="1766.0" y="1125.2" width="42" height="16" rx="6.4" fill="#000" fill-opacity="0.35" filter="url(#f8)"/><rect x="1821.0" y="1115.6" width="46" height="35.2" rx="17.6" fill="#000" fill-opacity="0.090" filter="url(#f16)"/><rect x="1823.0" y="1125.2" width="42" height="16" rx="6.4" fill="#000" fill-opacity="0.3" filter="url(#f8)"/><rect x="1879.0" y="1115.6" width="46" height="35.2" rx="17.6" fill="#000" fill-opacity="0.045" filter="url(#f16)"/><rect x="1881.0" y="1125.2" width="42" height="16" rx="6.4" fill="#000" fill-opacity="0.15" filter="url(#f8)"/><rect x="1937.0" y="1115.6" width="46" height="35.2" rx="17.6" fill="#000" fill-opacity="0.036" filter="url(#f16)"/><rect x="1939.0" y="1125.2" width="42" height="16" rx="6.4" fill="#000" fill-opacity="0.12" filter="url(#f8)"/><rect x="1534.0" y="1135.3" width="46" height="26.4" rx="13.2" fill="#000" fill-opacity="0.285" filter="url(#f12)"/><rect x="1536.0" y="1142.5" width="42" height="12" rx="4.8" fill="#000" fill-opacity="0.95" filter="url(#f6)"/><rect x="1592.5" y="1135.3" width="46" height="26.4" rx="13.2" fill="#000" fill-opacity="0.300" filter="url(#f12)"/><rect x="1594.5" y="1142.5" width="42" height="12" rx="4.8" fill="#000" fill-opacity="1.0" filter="url(#f6)"/><rect x="1650.0" y="1135.8" width="46" height="26.4" rx="13.2" fill="#000" fill-opacity="0.300" filter="url(#f12)"/><rect x="1652.0" y="1143.0" width="42" height="12" rx="4.8" fill="#000" fill-opacity="1.0" filter="url(#f6)"/><rect x="1707.4" y="1133.8" width="46" height="26.4" rx="13.2" fill="#000" fill-opacity="0.255" filter="url(#f12)"/><rect x="1709.4" y="1141.0" width="42" height="12" rx="4.8" fill="#000" fill-opacity="0.85" filter="url(#f6)"/><rect x="1764.0" y="1140.7" width="46" height="26.4" rx="13.2" fill="#000" fill-opacity="0.246" filter="url(#f12)"/><rect x="1766.0" y="1147.9" width="42" height="12" rx="4.8" fill="#000" fill-opacity="0.82" filter="url(#f6)"/><rect x="1821.0" y="1140.7" width="46" height="26.4" rx="13.2" fill="#000" fill-opacity="0.225" filter="url(#f12)"/><rect x="1823.0" y="1147.9" width="42" height="12" rx="4.8" fill="#000" fill-opacity="0.75" filter="url(#f6)"/><rect x="1879.0" y="1141.8" width="46" height="26.4" rx="13.2" fill="#000" fill-opacity="0.204" filter="url(#f12)"/><rect x="1881.0" y="1149.0" width="42" height="12" rx="4.8" fill="#000" fill-opacity="0.68" filter="url(#f6)"/><rect x="1937.0" y="1139.8" width="46" height="26.4" rx="13.2" fill="#000" fill-opacity="0.090" filter="url(#f12)"/><rect x="1939.0" y="1147.0" width="42" height="12" rx="4.8" fill="#000" fill-opacity="0.3" filter="url(#f6)"/><rect x="1535.0" y="1156.0" width="44" height="22.0" rx="11.0" fill="#000" fill-opacity="0.060" filter="url(#f16)"/><rect x="1537.0" y="1162.0" width="40" height="10" rx="4.0" fill="#000" fill-opacity="0.2" filter="url(#f8)"/><rect x="1593.5" y="1156.0" width="44" height="22.0" rx="11.0" fill="#000" fill-opacity="0.060" filter="url(#f16)"/><rect x="1595.5" y="1162.0" width="40" height="10" rx="4.0" fill="#000" fill-opacity="0.2" filter="url(#f8)"/><rect x="1651.0" y="1156.0" width="44" height="22.0" rx="11.0" fill="#000" fill-opacity="0.060" filter="url(#f16)"/><rect x="1653.0" y="1162.0" width="40" height="10" rx="4.0" fill="#000" fill-opacity="0.2" filter="url(#f8)"/><rect x="1708.4" y="1156.0" width="44" height="22.0" rx="11.0" fill="#000" fill-opacity="0.060" filter="url(#f16)"/><rect x="1710.4" y="1162.0" width="40" height="10" rx="4.0" fill="#000" fill-opacity="0.2" filter="url(#f8)"/><rect x="1765.0" y="1156.0" width="44" height="22.0" rx="11.0" fill="#000" fill-opacity="0.060" filter="url(#f16)"/><rect x="1767.0" y="1162.0" width="40" height="10" rx="4.0" fill="#000" fill-opacity="0.2" filter="url(#f8)"/><rect x="1822.0" y="1156.0" width="44" height="22.0" rx="11.0" fill="#000" fill-opacity="0.060" filter="url(#f16)"/><rect x="1824.0" y="1162.0" width="40" height="10" rx="4.0" fill="#000" fill-opacity="0.2" filter="url(#f8)"/><rect x="1880.0" y="1156.0" width="44" height="22.0" rx="11.0" fill="#000" fill-opacity="0.060" filter="url(#f16)"/><rect x="1882.0" y="1162.0" width="40" height="10" rx="4.0" fill="#000" fill-opacity="0.2" filter="url(#f8)"/><rect x="1938.0" y="1156.0" width="44" height="22.0" rx="11.0" fill="#000" fill-opacity="0.060" filter="url(#f16)"/><rect x="1940.0" y="1162.0" width="40" height="10" rx="4.0" fill="#000" fill-opacity="0.2" filter="url(#f8)"/></g><rect x="1532" y="1115" width="456.29999999999995" height="60.200000000000045" rx="0" fill="none" stroke="#1a1a1a" stroke-width="1.6"/><clipPath id="c25"><rect x="1532" y="1234.3" width="456.29999999999995" height="57.299999999999955"/></clipPath><g clip-path="url(#c25)"><rect x="1532" y="1234.3" width="456.29999999999995" height="57.299999999999955" fill="#ececec"/><linearGradient id="g25" x1="0" y1="0" x2="0" y2="1"><stop offset="0" stop-color="#000" stop-opacity="0.0"/><stop offset="0.7" stop-color="#000" stop-opacity="0"/><stop offset="1" stop-color="#000" stop-opacity="0.04"/></linearGradient><rect x="1532" y="1234.3" width="456.29999999999995" height="57.299999999999955" fill="url(#g25)"/><rect x="1533.0" y="1239.3" width="48" height="41.8" rx="20.9" fill="#000" fill-opacity="0.264" filter="url(#f14)"/><rect x="1535.0" y="1250.7" width="44" height="19" rx="7.6" fill="#000" fill-opacity="0.88" filter="url(#f7)"/><rect x="1591.5" y="1239.3" width="48" height="41.8" rx="20.9" fill="#000" fill-opacity="0.255" filter="url(#f14)"/><rect x="1593.5" y="1250.7" width="44" height="19" rx="7.6" fill="#000" fill-opacity="0.85" filter="url(#f7)"/><rect x="1649.0" y="1239.3" width="48" height="41.8" rx="20.9" fill="#000" fill-opacity="0.261" filter="url(#f14)"/><rect x="1651.0" y="1250.7" width="44" height="19" rx="7.6" fill="#000" fill-opacity="0.87" filter="url(#f7)"/><rect x="1706.4" y="1239.3" width="48" height="41.8" rx="20.9" fill="#000" fill-opacity="0.249" filter="url(#f14)"/><rect x="1708.4" y="1250.7" width="44" height="19" rx="7.6" fill="#000" fill-opacity="0.83" filter="url(#f7)"/><rect x="1763.0" y="1239.3" width="48" height="41.8" rx="20.9" fill="#000" fill-opacity="0.255" filter="url(#f14)"/><rect x="1765.0" y="1250.7" width="44" height="19" rx="7.6" fill="#000" fill-opacity="0.85" filter="url(#f7)"/><rect x="1820.0" y="1239.3" width="48" height="41.8" rx="20.9" fill="#000" fill-opacity="0.264" filter="url(#f14)"/><rect x="1822.0" y="1250.7" width="44" height="19" rx="7.6" fill="#000" fill-opacity="0.88" filter="url(#f7)"/><rect x="1878.0" y="1239.3" width="48" height="41.8" rx="20.9" fill="#000" fill-opacity="0.258" filter="url(#f14)"/><rect x="1880.0" y="1250.7" width="44" height="19" rx="7.6" fill="#000" fill-opacity="0.86" filter="url(#f7)"/><rect x="1936.0" y="1239.3" width="48" height="41.8" rx="20.9" fill="#000" fill-opacity="0.258" filter="url(#f14)"/><rect x="1938.0" y="1250.7" width="44" height="19" rx="7.6" fill="#000" fill-opacity="0.86" filter="url(#f7)"/></g><rect x="1532" y="1234.3" width="456.29999999999995" height="57.299999999999955" rx="0" fill="none" stroke="#1a1a1a" stroke-width="1.6"/>
</svg></body></html>
